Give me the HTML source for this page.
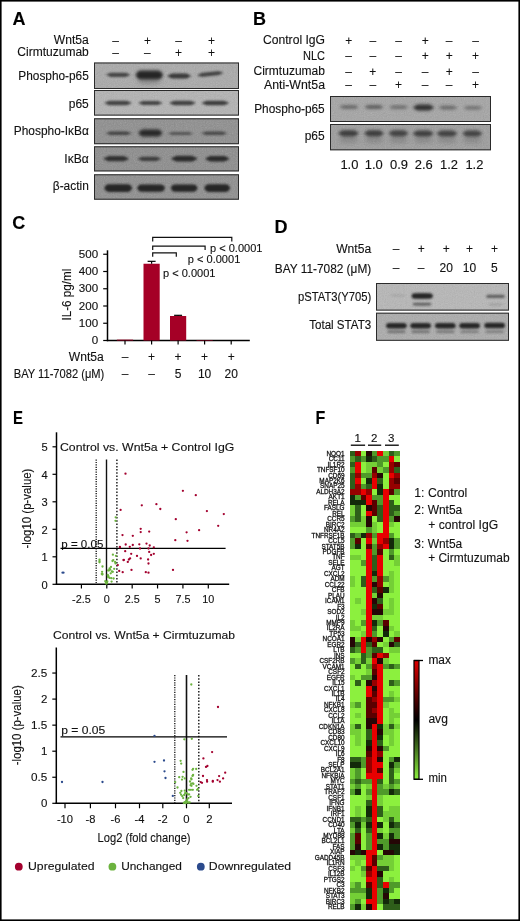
<!DOCTYPE html>
<html><head><meta charset="utf-8"><title>Figure</title>
<style>
html,body{margin:0;padding:0;background:#fff;}
body{width:520px;height:921px;overflow:hidden;position:relative;}
svg{position:absolute;left:0;top:0;display:block;will-change:transform;}
svg text{font-family:"Liberation Sans", sans-serif;stroke:#111;stroke-width:0.12px;}
</style></head><body>
<svg width="520" height="921" viewBox="0 0 520 921">
<defs>
<filter id="bl4" x="-50%" y="-150%" width="200%" height="400%"><feGaussianBlur stdDeviation="0.4"/></filter><filter id="bl5" x="-50%" y="-150%" width="200%" height="400%"><feGaussianBlur stdDeviation="0.5"/></filter><filter id="bl6" x="-50%" y="-150%" width="200%" height="400%"><feGaussianBlur stdDeviation="0.6"/></filter><filter id="bl7" x="-50%" y="-150%" width="200%" height="400%"><feGaussianBlur stdDeviation="0.7"/></filter><filter id="bl8" x="-50%" y="-150%" width="200%" height="400%"><feGaussianBlur stdDeviation="0.8"/></filter><filter id="bl9" x="-50%" y="-150%" width="200%" height="400%"><feGaussianBlur stdDeviation="0.9"/></filter><filter id="bl10" x="-50%" y="-150%" width="200%" height="400%"><feGaussianBlur stdDeviation="1.0"/></filter><filter id="bl11" x="-50%" y="-150%" width="200%" height="400%"><feGaussianBlur stdDeviation="1.1"/></filter><filter id="bl12" x="-50%" y="-150%" width="200%" height="400%"><feGaussianBlur stdDeviation="1.2"/></filter><filter id="bl13" x="-50%" y="-150%" width="200%" height="400%"><feGaussianBlur stdDeviation="1.3"/></filter><filter id="bl14" x="-50%" y="-150%" width="200%" height="400%"><feGaussianBlur stdDeviation="1.4"/></filter><filter id="bl15" x="-50%" y="-150%" width="200%" height="400%"><feGaussianBlur stdDeviation="1.5"/></filter><filter id="bl16" x="-50%" y="-150%" width="200%" height="400%"><feGaussianBlur stdDeviation="1.6"/></filter><filter id="bl17" x="-50%" y="-150%" width="200%" height="400%"><feGaussianBlur stdDeviation="1.7"/></filter><filter id="bl18" x="-50%" y="-150%" width="200%" height="400%"><feGaussianBlur stdDeviation="1.8"/></filter><filter id="bl19" x="-50%" y="-150%" width="200%" height="400%"><feGaussianBlur stdDeviation="1.9"/></filter><filter id="bl20" x="-50%" y="-150%" width="200%" height="400%"><feGaussianBlur stdDeviation="2.0"/></filter><filter id="bl21" x="-50%" y="-150%" width="200%" height="400%"><feGaussianBlur stdDeviation="2.1"/></filter><filter id="bl22" x="-50%" y="-150%" width="200%" height="400%"><feGaussianBlur stdDeviation="2.2"/></filter><filter id="bl23" x="-50%" y="-150%" width="200%" height="400%"><feGaussianBlur stdDeviation="2.3"/></filter><filter id="bl24" x="-50%" y="-150%" width="200%" height="400%"><feGaussianBlur stdDeviation="2.4"/></filter><filter id="bl25" x="-50%" y="-150%" width="200%" height="400%"><feGaussianBlur stdDeviation="2.5"/></filter><filter id="bl26" x="-50%" y="-150%" width="200%" height="400%"><feGaussianBlur stdDeviation="2.6"/></filter><filter id="bl27" x="-50%" y="-150%" width="200%" height="400%"><feGaussianBlur stdDeviation="2.7"/></filter><filter id="bl28" x="-50%" y="-150%" width="200%" height="400%"><feGaussianBlur stdDeviation="2.8"/></filter><filter id="bl29" x="-50%" y="-150%" width="200%" height="400%"><feGaussianBlur stdDeviation="2.9"/></filter><filter id="bl30" x="-50%" y="-150%" width="200%" height="400%"><feGaussianBlur stdDeviation="3.0"/></filter>
<filter id="noise"><feTurbulence type="fractalNoise" baseFrequency="0.9" numOctaves="2" seed="3"/><feColorMatrix type="saturate" values="0"/></filter>
<pattern id="grain" width="520" height="921" patternUnits="userSpaceOnUse"><rect width="520" height="921" fill="#808080" filter="url(#noise)"/></pattern>
</defs>
<rect x="0" y="0" width="520" height="921" fill="#fff"/>
<text x="12.5" y="24.8" font-size="18" text-anchor="start" font-weight="bold" fill="#000">A</text>
<text x="88.8" y="43.8" font-size="12" text-anchor="end" textLength="35" lengthAdjust="spacingAndGlyphs" fill="#111">Wnt5a</text>
<text x="88.8" y="56.2" font-size="12" text-anchor="end" textLength="71.5" lengthAdjust="spacingAndGlyphs" fill="#111">Cirmtuzumab</text>
<text x="115.6" y="44.7" font-size="12" text-anchor="middle" fill="#111">–</text>
<text x="147.4" y="44.7" font-size="12" text-anchor="middle" fill="#111">+</text>
<text x="178.6" y="44.7" font-size="12" text-anchor="middle" fill="#111">–</text>
<text x="211.5" y="44.7" font-size="12" text-anchor="middle" fill="#111">+</text>
<text x="115.6" y="57.2" font-size="12" text-anchor="middle" fill="#111">–</text>
<text x="147.4" y="57.2" font-size="12" text-anchor="middle" fill="#111">–</text>
<text x="178.6" y="57.2" font-size="12" text-anchor="middle" fill="#111">+</text>
<text x="211.5" y="57.2" font-size="12" text-anchor="middle" fill="#111">+</text>
<clipPath id="cp11"><rect x="94" y="62.5" width="145" height="26.5"/></clipPath>
<rect x="94" y="62.5" width="145" height="26.5" fill="#a8a8a8"/>
<g clip-path="url(#cp11)">
<rect x="94" y="62.5" width="145" height="26.5" fill="url(#grain)" opacity="0.30"/>
<g opacity="0.78" filter="url(#bl13)"><rect x="108.84" y="72.70" width="18.72" height="4.20" rx="2.10" fill="#262626"/><ellipse cx="118.2" cy="74.8" rx="12.00" ry="1.89" fill="#262626"/></g>
<g opacity="1.0" filter="url(#bl14)"><rect x="136.24" y="70.50" width="26.12" height="9.00" rx="4.50" fill="#262626"/><ellipse cx="149.3" cy="75.0" rx="13.75" ry="4.05" fill="#262626"/></g>
<g opacity="0.85" filter="url(#bl13)"><rect x="169.84" y="73.50" width="18.72" height="5.00" rx="2.50" fill="#262626"/><ellipse cx="179.2" cy="76.0" rx="12.00" ry="2.25" fill="#262626"/></g>
<g opacity="0.8" filter="url(#bl13)" transform="rotate(-6 210.2 74.0)"><rect x="200.06" y="71.90" width="20.28" height="4.20" rx="2.10" fill="#262626"/><ellipse cx="210.2" cy="74.0" rx="13.00" ry="1.89" fill="#262626"/></g>
<g opacity="0.25" filter="url(#bl23)"><rect x="139.94" y="79.00" width="18.72" height="5.00" rx="2.50" fill="#262626"/><ellipse cx="149.3" cy="81.5" rx="12.00" ry="2.25" fill="#262626"/></g>
</g>
<rect x="94.5" y="63.0" width="144" height="25.5" fill="none" stroke="#2a2a2a" stroke-width="1"/>
<clipPath id="cp22"><rect x="94" y="90" width="145" height="25.6"/></clipPath>
<rect x="94" y="90" width="145" height="25.6" fill="#b2b2b2"/>
<g clip-path="url(#cp22)">
<rect x="94" y="90" width="145" height="25.6" fill="url(#grain)" opacity="0.30"/>
<g opacity="0.8" filter="url(#bl13)"><rect x="107.47" y="100.70" width="21.06" height="4.60" rx="2.30" fill="#262626"/><ellipse cx="118.0" cy="103.0" rx="13.50" ry="2.07" fill="#262626"/></g>
<g opacity="0.8" filter="url(#bl13)"><rect x="141.04" y="100.90" width="18.72" height="4.20" rx="2.10" fill="#262626"/><ellipse cx="150.4" cy="103.0" rx="12.00" ry="1.89" fill="#262626"/></g>
<g opacity="0.82" filter="url(#bl13)"><rect x="172.36" y="100.70" width="20.28" height="4.60" rx="2.30" fill="#262626"/><ellipse cx="182.5" cy="103.0" rx="13.00" ry="2.07" fill="#262626"/></g>
<g opacity="0.85" filter="url(#bl13)"><rect x="204.77" y="100.70" width="21.06" height="4.60" rx="2.30" fill="#262626"/><ellipse cx="215.3" cy="103.0" rx="13.50" ry="2.07" fill="#262626"/></g>
</g>
<rect x="94.5" y="90.5" width="144" height="24.6" fill="none" stroke="#2a2a2a" stroke-width="1"/>
<clipPath id="cp32"><rect x="94" y="118.3" width="145" height="25.9"/></clipPath>
<rect x="94" y="118.3" width="145" height="25.9" fill="#8c8c8c"/>
<g clip-path="url(#cp32)">
<rect x="94" y="118.3" width="145" height="25.9" fill="url(#grain)" opacity="0.30"/>
<g opacity="0.72" filter="url(#bl12)"><rect x="108.56" y="131.60" width="20.28" height="3.40" rx="1.70" fill="#262626"/><ellipse cx="118.7" cy="133.3" rx="13.00" ry="1.53" fill="#262626"/></g>
<g opacity="0.98" filter="url(#bl14)"><rect x="139.60" y="129.50" width="21.60" height="7.00" rx="3.50" fill="#262626"/><ellipse cx="150.4" cy="133.0" rx="12.00" ry="3.15" fill="#262626"/></g>
<g opacity="0.58" filter="url(#bl12)"><rect x="170.75" y="132.00" width="19.50" height="3.00" rx="1.50" fill="#262626"/><ellipse cx="180.5" cy="133.5" rx="12.50" ry="1.35" fill="#262626"/></g>
<g opacity="0.68" filter="url(#bl12)"><rect x="204.16" y="131.60" width="20.28" height="3.40" rx="1.70" fill="#262626"/><ellipse cx="214.3" cy="133.3" rx="13.00" ry="1.53" fill="#262626"/></g>
</g>
<rect x="94.5" y="118.8" width="144" height="24.9" fill="none" stroke="#2a2a2a" stroke-width="1"/>
<clipPath id="cp42"><rect x="94" y="146.3" width="145" height="25.1"/></clipPath>
<rect x="94" y="146.3" width="145" height="25.1" fill="#8a8a8a"/>
<g clip-path="url(#cp42)">
<rect x="94" y="146.3" width="145" height="25.1" fill="url(#grain)" opacity="0.30"/>
<g opacity="0.9" filter="url(#bl13)"><rect x="106.45" y="156.10" width="19.50" height="5.20" rx="2.60" fill="#262626"/><ellipse cx="116.2" cy="158.7" rx="12.50" ry="2.34" fill="#262626"/></g>
<g opacity="0.8" filter="url(#bl13)"><rect x="140.43" y="156.70" width="17.94" height="4.20" rx="2.10" fill="#262626"/><ellipse cx="149.4" cy="158.8" rx="11.50" ry="1.89" fill="#262626"/></g>
<g opacity="0.95" filter="url(#bl13)"><rect x="174.36" y="155.80" width="19.89" height="5.80" rx="2.90" fill="#262626"/><ellipse cx="184.3" cy="158.7" rx="12.75" ry="2.61" fill="#262626"/></g>
<g opacity="0.95" filter="url(#bl13)"><rect x="207.94" y="156.00" width="18.72" height="5.40" rx="2.70" fill="#262626"/><ellipse cx="217.3" cy="158.7" rx="12.00" ry="2.43" fill="#262626"/></g>
</g>
<rect x="94.5" y="146.8" width="144" height="24.1" fill="none" stroke="#2a2a2a" stroke-width="1"/>
<clipPath id="cp52"><rect x="94" y="174.3" width="145" height="25.4"/></clipPath>
<rect x="94" y="174.3" width="145" height="25.4" fill="#8c8c8c"/>
<g clip-path="url(#cp52)">
<rect x="94" y="174.3" width="145" height="25.4" fill="url(#grain)" opacity="0.30"/>
<g opacity="1.0" filter="url(#bl13)"><rect x="104.90" y="184.30" width="26.60" height="7.60" rx="3.80" fill="#262626"/><ellipse cx="118.2" cy="188.1" rx="14.00" ry="3.42" fill="#262626"/></g>
<g opacity="1.0" filter="url(#bl13)"><rect x="137.80" y="184.50" width="26.60" height="7.20" rx="3.60" fill="#262626"/><ellipse cx="151.1" cy="188.1" rx="14.00" ry="3.24" fill="#262626"/></g>
<g opacity="1.0" filter="url(#bl13)"><rect x="171.38" y="184.50" width="25.65" height="7.20" rx="3.60" fill="#262626"/><ellipse cx="184.2" cy="188.1" rx="13.50" ry="3.24" fill="#262626"/></g>
<g opacity="1.0" filter="url(#bl13)"><rect x="204.85" y="184.30" width="24.70" height="7.60" rx="3.80" fill="#262626"/><ellipse cx="217.2" cy="188.1" rx="13.00" ry="3.42" fill="#262626"/></g>
</g>
<rect x="94.5" y="174.8" width="144" height="24.4" fill="none" stroke="#2a2a2a" stroke-width="1"/>
<text x="88.8" y="79.6" font-size="12" text-anchor="end" textLength="70.5" lengthAdjust="spacingAndGlyphs" fill="#111">Phospho-p65</text>
<text x="88.8" y="108.2" font-size="12" text-anchor="end" textLength="20" lengthAdjust="spacingAndGlyphs" fill="#111">p65</text>
<text x="88.8" y="135.2" font-size="12" text-anchor="end" textLength="75" lengthAdjust="spacingAndGlyphs" fill="#111">Phospho-IκBα</text>
<text x="88.8" y="162.6" font-size="12" text-anchor="end" textLength="24.5" lengthAdjust="spacingAndGlyphs" fill="#111">IκBα</text>
<text x="88.8" y="190.2" font-size="12" text-anchor="end" textLength="36" lengthAdjust="spacingAndGlyphs" fill="#111">β-actin</text>
<text x="253" y="25.2" font-size="18" text-anchor="start" font-weight="bold" fill="#000">B</text>
<text x="325" y="43.8" font-size="12" text-anchor="end" textLength="62" lengthAdjust="spacingAndGlyphs" fill="#111">Control IgG</text>
<text x="325" y="59.7" font-size="12" text-anchor="end" textLength="22" lengthAdjust="spacingAndGlyphs" fill="#111">NLC</text>
<text x="325" y="75.1" font-size="12" text-anchor="end" textLength="71.5" lengthAdjust="spacingAndGlyphs" fill="#111">Cirmtuzumab</text>
<text x="325" y="88.8" font-size="12" text-anchor="end" textLength="61" lengthAdjust="spacingAndGlyphs" fill="#111">Anti-Wnt5a</text>
<text x="348.7" y="44.5" font-size="12" text-anchor="middle" fill="#111">+</text>
<text x="372.8" y="44.5" font-size="12" text-anchor="middle" fill="#111">–</text>
<text x="398.6" y="44.5" font-size="12" text-anchor="middle" fill="#111">–</text>
<text x="425.2" y="44.5" font-size="12" text-anchor="middle" fill="#111">+</text>
<text x="449.2" y="44.5" font-size="12" text-anchor="middle" fill="#111">–</text>
<text x="475.6" y="44.5" font-size="12" text-anchor="middle" fill="#111">–</text>
<text x="348.7" y="60.1" font-size="12" text-anchor="middle" fill="#111">–</text>
<text x="372.8" y="60.1" font-size="12" text-anchor="middle" fill="#111">–</text>
<text x="398.6" y="60.1" font-size="12" text-anchor="middle" fill="#111">–</text>
<text x="425.2" y="60.1" font-size="12" text-anchor="middle" fill="#111">+</text>
<text x="449.2" y="60.1" font-size="12" text-anchor="middle" fill="#111">+</text>
<text x="475.6" y="60.1" font-size="12" text-anchor="middle" fill="#111">+</text>
<text x="348.7" y="75.5" font-size="12" text-anchor="middle" fill="#111">–</text>
<text x="372.8" y="75.5" font-size="12" text-anchor="middle" fill="#111">+</text>
<text x="398.6" y="75.5" font-size="12" text-anchor="middle" fill="#111">–</text>
<text x="425.2" y="75.5" font-size="12" text-anchor="middle" fill="#111">–</text>
<text x="449.2" y="75.5" font-size="12" text-anchor="middle" fill="#111">+</text>
<text x="475.6" y="75.5" font-size="12" text-anchor="middle" fill="#111">–</text>
<text x="348.7" y="89.10000000000001" font-size="12" text-anchor="middle" fill="#111">–</text>
<text x="372.8" y="89.10000000000001" font-size="12" text-anchor="middle" fill="#111">–</text>
<text x="398.6" y="89.10000000000001" font-size="12" text-anchor="middle" fill="#111">+</text>
<text x="425.2" y="89.10000000000001" font-size="12" text-anchor="middle" fill="#111">–</text>
<text x="449.2" y="89.10000000000001" font-size="12" text-anchor="middle" fill="#111">–</text>
<text x="475.6" y="89.10000000000001" font-size="12" text-anchor="middle" fill="#111">+</text>
<clipPath id="cp96"><rect x="330" y="96" width="161" height="26"/></clipPath>
<rect x="330" y="96" width="161" height="26" fill="#a3a3a3"/>
<g clip-path="url(#cp96)">
<rect x="330" y="96" width="161" height="26" fill="url(#grain)" opacity="0.30"/>
<g opacity="0.5" filter="url(#bl15)"><rect x="341.69" y="105.20" width="14.82" height="3.60" rx="1.80" fill="#262626"/><ellipse cx="349.1" cy="107.0" rx="9.50" ry="1.62" fill="#262626"/></g>
<g opacity="0.55" filter="url(#bl15)"><rect x="366.59" y="105.00" width="14.82" height="4.00" rx="2.00" fill="#262626"/><ellipse cx="374.0" cy="107.0" rx="9.50" ry="1.80" fill="#262626"/></g>
<g opacity="0.45" filter="url(#bl15)"><rect x="391.29" y="105.50" width="14.82" height="3.40" rx="1.70" fill="#262626"/><ellipse cx="398.7" cy="107.2" rx="9.50" ry="1.53" fill="#262626"/></g>
<g opacity="0.92" filter="url(#bl15)"><rect x="415.31" y="104.60" width="16.38" height="6.00" rx="3.00" fill="#262626"/><ellipse cx="423.5" cy="107.6" rx="10.50" ry="2.70" fill="#262626"/></g>
<g opacity="0.48" filter="url(#bl15)"><rect x="440.59" y="105.80" width="14.82" height="3.60" rx="1.80" fill="#262626"/><ellipse cx="448.0" cy="107.6" rx="9.50" ry="1.62" fill="#262626"/></g>
<g opacity="0.42" filter="url(#bl15)"><rect x="465.59" y="106.10" width="14.82" height="3.40" rx="1.70" fill="#262626"/><ellipse cx="473.0" cy="107.8" rx="9.50" ry="1.53" fill="#262626"/></g>
</g>
<rect x="330.5" y="96.5" width="160" height="25" fill="none" stroke="#2a2a2a" stroke-width="1"/>
<clipPath id="cp108"><rect x="330" y="124" width="161" height="26.3"/></clipPath>
<rect x="330" y="124" width="161" height="26.3" fill="#9b9b9b"/>
<g clip-path="url(#cp108)">
<rect x="330" y="124" width="161" height="26.3" fill="url(#grain)" opacity="0.30"/>
<g opacity="0.8" filter="url(#bl16)"><rect x="340.31" y="130.20" width="16.38" height="6.20" rx="3.10" fill="#262626"/><ellipse cx="348.5" cy="133.3" rx="10.50" ry="2.79" fill="#262626"/></g>
<g opacity="0.8" filter="url(#bl16)"><rect x="366.20" y="130.20" width="15.60" height="6.20" rx="3.10" fill="#262626"/><ellipse cx="374.0" cy="133.3" rx="10.00" ry="2.79" fill="#262626"/></g>
<g opacity="0.76" filter="url(#bl16)"><rect x="390.70" y="130.20" width="15.60" height="6.20" rx="3.10" fill="#262626"/><ellipse cx="398.5" cy="133.3" rx="10.00" ry="2.79" fill="#262626"/></g>
<g opacity="0.8" filter="url(#bl16)"><rect x="415.01" y="130.40" width="16.38" height="6.20" rx="3.10" fill="#262626"/><ellipse cx="423.2" cy="133.5" rx="10.50" ry="2.79" fill="#262626"/></g>
<g opacity="0.78" filter="url(#bl16)"><rect x="438.81" y="130.40" width="16.38" height="6.20" rx="3.10" fill="#262626"/><ellipse cx="447.0" cy="133.5" rx="10.50" ry="2.79" fill="#262626"/></g>
<g opacity="0.76" filter="url(#bl16)"><rect x="464.50" y="130.40" width="15.60" height="6.20" rx="3.10" fill="#262626"/><ellipse cx="472.3" cy="133.5" rx="10.00" ry="2.79" fill="#262626"/></g>
<g opacity="0.2" filter="url(#bl23)"><rect x="340.70" y="137.50" width="15.60" height="5.00" rx="2.50" fill="#262626"/><ellipse cx="348.5" cy="140" rx="10.00" ry="2.25" fill="#262626"/></g>
<g opacity="0.2" filter="url(#bl23)"><rect x="366.20" y="137.50" width="15.60" height="5.00" rx="2.50" fill="#262626"/><ellipse cx="374" cy="140" rx="10.00" ry="2.25" fill="#262626"/></g>
<g opacity="0.2" filter="url(#bl23)"><rect x="390.70" y="137.50" width="15.60" height="5.00" rx="2.50" fill="#262626"/><ellipse cx="398.5" cy="140" rx="10.00" ry="2.25" fill="#262626"/></g>
<g opacity="0.2" filter="url(#bl23)"><rect x="415.40" y="137.50" width="15.60" height="5.00" rx="2.50" fill="#262626"/><ellipse cx="423.2" cy="140" rx="10.00" ry="2.25" fill="#262626"/></g>
<g opacity="0.2" filter="url(#bl23)"><rect x="439.20" y="137.50" width="15.60" height="5.00" rx="2.50" fill="#262626"/><ellipse cx="447" cy="140" rx="10.00" ry="2.25" fill="#262626"/></g>
<g opacity="0.2" filter="url(#bl23)"><rect x="464.50" y="137.50" width="15.60" height="5.00" rx="2.50" fill="#262626"/><ellipse cx="472.3" cy="140" rx="10.00" ry="2.25" fill="#262626"/></g>
</g>
<rect x="330.5" y="124.5" width="160" height="25.3" fill="none" stroke="#2a2a2a" stroke-width="1"/>
<text x="324.7" y="113.4" font-size="12" text-anchor="end" textLength="70.5" lengthAdjust="spacingAndGlyphs" fill="#111">Phospho-p65</text>
<text x="324.7" y="140.3" font-size="12" text-anchor="end" textLength="20" lengthAdjust="spacingAndGlyphs" fill="#111">p65</text>
<text x="349.4" y="168.9" font-size="12" text-anchor="middle" textLength="18" lengthAdjust="spacingAndGlyphs" fill="#111">1.0</text>
<text x="373.7" y="168.9" font-size="12" text-anchor="middle" textLength="18" lengthAdjust="spacingAndGlyphs" fill="#111">1.0</text>
<text x="399.0" y="168.9" font-size="12" text-anchor="middle" textLength="18" lengthAdjust="spacingAndGlyphs" fill="#111">0.9</text>
<text x="423.8" y="168.9" font-size="12" text-anchor="middle" textLength="18" lengthAdjust="spacingAndGlyphs" fill="#111">2.6</text>
<text x="449.0" y="168.9" font-size="12" text-anchor="middle" textLength="18" lengthAdjust="spacingAndGlyphs" fill="#111">1.2</text>
<text x="474.4" y="168.9" font-size="12" text-anchor="middle" textLength="18" lengthAdjust="spacingAndGlyphs" fill="#111">1.2</text>
<text x="12.3" y="229.1" font-size="18" text-anchor="start" font-weight="bold" fill="#000">C</text>
<line x1="107.5" y1="250.3" x2="107.5" y2="341.2" stroke="#000" stroke-width="1.5"/>
<line x1="106.8" y1="340.5" x2="249.8" y2="340.5" stroke="#000" stroke-width="1.5"/>
<line x1="103.2" y1="340.5" x2="107.5" y2="340.5" stroke="#000" stroke-width="1.2"/>
<text x="98.2" y="344.2" font-size="10.4" text-anchor="end" textLength="6.45" lengthAdjust="spacingAndGlyphs" fill="#111">0</text>
<line x1="103.2" y1="323.25" x2="107.5" y2="323.25" stroke="#000" stroke-width="1.2"/>
<text x="98.2" y="326.95" font-size="10.4" text-anchor="end" textLength="19.35" lengthAdjust="spacingAndGlyphs" fill="#111">100</text>
<line x1="103.2" y1="306.0" x2="107.5" y2="306.0" stroke="#000" stroke-width="1.2"/>
<text x="98.2" y="309.7" font-size="10.4" text-anchor="end" textLength="19.35" lengthAdjust="spacingAndGlyphs" fill="#111">200</text>
<line x1="103.2" y1="288.75" x2="107.5" y2="288.75" stroke="#000" stroke-width="1.2"/>
<text x="98.2" y="292.45" font-size="10.4" text-anchor="end" textLength="19.35" lengthAdjust="spacingAndGlyphs" fill="#111">300</text>
<line x1="103.2" y1="271.5" x2="107.5" y2="271.5" stroke="#000" stroke-width="1.2"/>
<text x="98.2" y="275.2" font-size="10.4" text-anchor="end" textLength="19.35" lengthAdjust="spacingAndGlyphs" fill="#111">400</text>
<line x1="103.2" y1="254.25" x2="107.5" y2="254.25" stroke="#000" stroke-width="1.2"/>
<text x="98.2" y="257.95" font-size="10.4" text-anchor="end" textLength="19.35" lengthAdjust="spacingAndGlyphs" fill="#111">500</text>
<text transform="translate(70.6,294.6) rotate(-90)" font-size="13" text-anchor="middle" fill="#111" textLength="51.7" lengthAdjust="spacingAndGlyphs">IL-6 pg/ml</text>
<rect x="116.9" y="339.6375" width="16.2" height="0.8625000000000114" fill="#a50026"/>
<line x1="125" y1="340.5" x2="125" y2="344.5" stroke="#000" stroke-width="1.2"/>
<rect x="143.5" y="263.7375" width="16.2" height="76.76249999999999" fill="#a50026"/>
<line x1="151.6" y1="263.7375" x2="151.6" y2="261.3225" stroke="#000" stroke-width="1.2"/>
<line x1="147.6" y1="261.3225" x2="155.6" y2="261.3225" stroke="#000" stroke-width="1.2"/>
<line x1="151.6" y1="340.5" x2="151.6" y2="344.5" stroke="#000" stroke-width="1.2"/>
<rect x="170.0" y="316.005" width="16.2" height="24.495000000000005" fill="#a50026"/>
<line x1="178.1" y1="316.005" x2="178.1" y2="315.315" stroke="#000" stroke-width="1.2"/>
<line x1="174.1" y1="315.315" x2="182.1" y2="315.315" stroke="#000" stroke-width="1.2"/>
<line x1="178.1" y1="340.5" x2="178.1" y2="344.5" stroke="#000" stroke-width="1.2"/>
<rect x="196.5" y="339.9825" width="16.2" height="0.5174999999999841" fill="#a50026"/>
<line x1="204.6" y1="340.5" x2="204.6" y2="344.5" stroke="#000" stroke-width="1.2"/>
<line x1="231.2" y1="340.5" x2="231.2" y2="344.5" stroke="#000" stroke-width="1.2"/>
<polyline points="152.7,241.4 152.7,237.3 231.8,237.3 231.8,241.4" fill="none" stroke="#111" stroke-width="1.2"/>
<polyline points="152.7,250.0 152.7,246.2 205.1,246.2 205.1,250.0" fill="none" stroke="#111" stroke-width="1.2"/>
<polyline points="152.7,256.7 152.7,252.8 176.3,252.8 176.3,256.7" fill="none" stroke="#111" stroke-width="1.2"/>
<text x="163.0" y="277.0" font-size="11.5" text-anchor="start" textLength="52.5" lengthAdjust="spacingAndGlyphs" fill="#111">p &lt; 0.0001</text>
<text x="187.8" y="263.2" font-size="11.5" text-anchor="start" textLength="52.5" lengthAdjust="spacingAndGlyphs" fill="#111">p &lt; 0.0001</text>
<text x="210.0" y="251.6" font-size="11.5" text-anchor="start" textLength="52.5" lengthAdjust="spacingAndGlyphs" fill="#111">p &lt; 0.0001</text>
<text x="103.8" y="360.6" font-size="12" text-anchor="end" textLength="35" lengthAdjust="spacingAndGlyphs" fill="#111">Wnt5a</text>
<text x="13.8" y="377.6" font-size="12" text-anchor="start" textLength="90.5" lengthAdjust="spacingAndGlyphs" fill="#111">BAY 11-7082 (μM)</text>
<text x="125" y="360.8" font-size="12" text-anchor="middle" fill="#111">–</text>
<text x="151.6" y="360.8" font-size="12" text-anchor="middle" fill="#111">+</text>
<text x="178.1" y="360.8" font-size="12" text-anchor="middle" fill="#111">+</text>
<text x="204.6" y="360.8" font-size="12" text-anchor="middle" fill="#111">+</text>
<text x="231.2" y="360.8" font-size="12" text-anchor="middle" fill="#111">+</text>
<text x="125" y="377.6" font-size="12" text-anchor="middle" fill="#111">–</text>
<text x="151.6" y="377.6" font-size="12" text-anchor="middle" fill="#111">–</text>
<text x="178.1" y="377.6" font-size="12" text-anchor="middle" fill="#111">5</text>
<text x="204.6" y="377.6" font-size="12" text-anchor="middle" fill="#111">10</text>
<text x="231.2" y="377.6" font-size="12" text-anchor="middle" fill="#111">20</text>
<text x="274.6" y="233.0" font-size="18" text-anchor="start" font-weight="bold" fill="#000">D</text>
<text x="371.2" y="253.2" font-size="12" text-anchor="end" textLength="35" lengthAdjust="spacingAndGlyphs" fill="#111">Wnt5a</text>
<text x="371.2" y="272.5" font-size="12" text-anchor="end" textLength="96.4" lengthAdjust="spacingAndGlyphs" fill="#111">BAY 11-7082 (μM)</text>
<text x="396.1" y="253.2" font-size="12" text-anchor="middle" fill="#111">–</text>
<text x="421.2" y="253.2" font-size="12" text-anchor="middle" fill="#111">+</text>
<text x="446.2" y="253.2" font-size="12" text-anchor="middle" fill="#111">+</text>
<text x="469.4" y="253.2" font-size="12" text-anchor="middle" fill="#111">+</text>
<text x="494.4" y="253.2" font-size="12" text-anchor="middle" fill="#111">+</text>
<text x="396.1" y="272.3" font-size="12" text-anchor="middle" fill="#111">–</text>
<text x="421.2" y="272.3" font-size="12" text-anchor="middle" fill="#111">–</text>
<text x="446.2" y="272.3" font-size="12" text-anchor="middle" fill="#111">20</text>
<text x="469.4" y="272.3" font-size="12" text-anchor="middle" fill="#111">10</text>
<text x="494.4" y="272.3" font-size="12" text-anchor="middle" fill="#111">5</text>
<clipPath id="cp194"><rect x="376" y="283" width="133" height="27.6"/></clipPath>
<rect x="376" y="283" width="133" height="27.6" fill="#b6b6b6"/>
<g clip-path="url(#cp194)">
<rect x="376" y="283" width="133" height="27.6" fill="url(#grain)" opacity="0.30"/>
<g opacity="1.0" filter="url(#bl13)"><rect x="411.77" y="293.20" width="20.86" height="5.60" rx="2.80" fill="#262626"/><ellipse cx="422.2" cy="296.0" rx="10.75" ry="2.52" fill="#262626"/></g>
<g opacity="0.6" filter="url(#bl12)"><rect x="412.98" y="302.80" width="18.05" height="2.80" rx="1.40" fill="#262626"/><ellipse cx="422.0" cy="304.2" rx="9.50" ry="1.26" fill="#262626"/></g>
<g opacity="0.6" filter="url(#bl13)"><rect x="486.50" y="294.80" width="18.00" height="3.20" rx="1.60" fill="#262626"/><ellipse cx="495.5" cy="296.4" rx="10.00" ry="1.44" fill="#262626"/></g>
<g opacity="0.15" filter="url(#bl13)"><rect x="489.26" y="303.50" width="12.48" height="2.00" rx="1.00" fill="#262626"/><ellipse cx="495.5" cy="304.5" rx="8.00" ry="0.90" fill="#262626"/></g>
<g opacity="0.1" filter="url(#bl13)"><rect x="391.76" y="294.50" width="12.48" height="2.00" rx="1.00" fill="#262626"/><ellipse cx="398" cy="295.5" rx="8.00" ry="0.90" fill="#262626"/></g>
</g>
<rect x="376.5" y="283.5" width="132" height="26.6" fill="none" stroke="#2a2a2a" stroke-width="1"/>
<clipPath id="cp205"><rect x="376" y="312.7" width="133" height="28.1"/></clipPath>
<rect x="376" y="312.7" width="133" height="28.1" fill="#aaaaaa"/>
<g clip-path="url(#cp205)">
<rect x="376" y="312.7" width="133" height="28.1" fill="url(#grain)" opacity="0.30"/>
<g opacity="1.0" filter="url(#bl13)"><rect x="386.21" y="323.05" width="20.37" height="5.50" rx="2.75" fill="#262626"/><ellipse cx="396.4" cy="325.8" rx="10.50" ry="2.48" fill="#262626"/></g>
<g opacity="1.0" filter="url(#bl13)"><rect x="410.42" y="323.05" width="20.37" height="5.50" rx="2.75" fill="#262626"/><ellipse cx="420.6" cy="325.8" rx="10.50" ry="2.48" fill="#262626"/></g>
<g opacity="1.0" filter="url(#bl13)"><rect x="435.12" y="323.05" width="20.37" height="5.50" rx="2.75" fill="#262626"/><ellipse cx="445.3" cy="325.8" rx="10.50" ry="2.48" fill="#262626"/></g>
<g opacity="1.0" filter="url(#bl13)"><rect x="459.42" y="323.05" width="20.37" height="5.50" rx="2.75" fill="#262626"/><ellipse cx="469.6" cy="325.8" rx="10.50" ry="2.48" fill="#262626"/></g>
<g opacity="1.0" filter="url(#bl13)"><rect x="484.51" y="322.85" width="20.37" height="5.50" rx="2.75" fill="#262626"/><ellipse cx="494.7" cy="325.6" rx="10.50" ry="2.48" fill="#262626"/></g>
<g opacity="0.45" filter="url(#bl13)"><rect x="387.38" y="330.55" width="18.05" height="2.50" rx="1.25" fill="#262626"/><ellipse cx="396.4" cy="331.8" rx="9.50" ry="1.12" fill="#262626"/></g>
<g opacity="0.45" filter="url(#bl13)"><rect x="411.58" y="330.55" width="18.05" height="2.50" rx="1.25" fill="#262626"/><ellipse cx="420.6" cy="331.8" rx="9.50" ry="1.12" fill="#262626"/></g>
<g opacity="0.4" filter="url(#bl13)"><rect x="436.28" y="330.55" width="18.05" height="2.50" rx="1.25" fill="#262626"/><ellipse cx="445.3" cy="331.8" rx="9.50" ry="1.12" fill="#262626"/></g>
<g opacity="0.35" filter="url(#bl13)"><rect x="460.58" y="330.55" width="18.05" height="2.50" rx="1.25" fill="#262626"/><ellipse cx="469.6" cy="331.8" rx="9.50" ry="1.12" fill="#262626"/></g>
<g opacity="0.35" filter="url(#bl13)"><rect x="485.68" y="330.55" width="18.05" height="2.50" rx="1.25" fill="#262626"/><ellipse cx="494.7" cy="331.8" rx="9.50" ry="1.12" fill="#262626"/></g>
</g>
<rect x="376.5" y="313.2" width="132" height="27.1" fill="none" stroke="#2a2a2a" stroke-width="1"/>
<text x="371.2" y="301.3" font-size="12" text-anchor="end" textLength="73.2" lengthAdjust="spacingAndGlyphs" fill="#111">pSTAT3(Y705)</text>
<text x="371.2" y="329.3" font-size="12" text-anchor="end" textLength="62" lengthAdjust="spacingAndGlyphs" fill="#111">Total STAT3</text>
<text x="12.9" y="424.1" font-size="17.5" text-anchor="start" font-weight="bold" textLength="10" lengthAdjust="spacingAndGlyphs" fill="#000">E</text>
<line x1="56.5" y1="432.3" x2="56.5" y2="585" stroke="#000" stroke-width="1.5"/>
<line x1="55.8" y1="584.3" x2="229.2" y2="584.3" stroke="#000" stroke-width="1.5"/>
<line x1="52.5" y1="584.3" x2="56.5" y2="584.3" stroke="#000" stroke-width="1.2"/>
<text x="47.6" y="588.5" font-size="10.6" text-anchor="end" textLength="6.2" lengthAdjust="spacingAndGlyphs" fill="#111">0</text>
<line x1="52.5" y1="556.8" x2="56.5" y2="556.8" stroke="#000" stroke-width="1.2"/>
<text x="47.6" y="561.0" font-size="10.6" text-anchor="end" textLength="6.2" lengthAdjust="spacingAndGlyphs" fill="#111">1</text>
<line x1="52.5" y1="529.3" x2="56.5" y2="529.3" stroke="#000" stroke-width="1.2"/>
<text x="47.6" y="533.5" font-size="10.6" text-anchor="end" textLength="6.2" lengthAdjust="spacingAndGlyphs" fill="#111">2</text>
<line x1="52.5" y1="501.79999999999995" x2="56.5" y2="501.79999999999995" stroke="#000" stroke-width="1.2"/>
<text x="47.6" y="505.99999999999994" font-size="10.6" text-anchor="end" textLength="6.2" lengthAdjust="spacingAndGlyphs" fill="#111">3</text>
<line x1="52.5" y1="474.29999999999995" x2="56.5" y2="474.29999999999995" stroke="#000" stroke-width="1.2"/>
<text x="47.6" y="478.49999999999994" font-size="10.6" text-anchor="end" textLength="6.2" lengthAdjust="spacingAndGlyphs" fill="#111">4</text>
<line x1="52.5" y1="446.79999999999995" x2="56.5" y2="446.79999999999995" stroke="#000" stroke-width="1.2"/>
<text x="47.6" y="450.99999999999994" font-size="10.6" text-anchor="end" textLength="6.2" lengthAdjust="spacingAndGlyphs" fill="#111">5</text>
<line x1="81.425" y1="584.3" x2="81.425" y2="588.5" stroke="#000" stroke-width="1.2"/>
<text x="81.425" y="603.1" font-size="10.8" text-anchor="middle" fill="#111">-2.5</text>
<line x1="106.8" y1="584.3" x2="106.8" y2="588.5" stroke="#000" stroke-width="1.2"/>
<text x="106.8" y="603.1" font-size="10.8" text-anchor="middle" fill="#111">0</text>
<line x1="132.175" y1="584.3" x2="132.175" y2="588.5" stroke="#000" stroke-width="1.2"/>
<text x="132.175" y="603.1" font-size="10.8" text-anchor="middle" fill="#111">2.5</text>
<line x1="157.55" y1="584.3" x2="157.55" y2="588.5" stroke="#000" stroke-width="1.2"/>
<text x="157.55" y="603.1" font-size="10.8" text-anchor="middle" fill="#111">5</text>
<line x1="182.925" y1="584.3" x2="182.925" y2="588.5" stroke="#000" stroke-width="1.2"/>
<text x="182.925" y="603.1" font-size="10.8" text-anchor="middle" fill="#111">7.5</text>
<line x1="208.3" y1="584.3" x2="208.3" y2="588.5" stroke="#000" stroke-width="1.2"/>
<text x="208.3" y="603.1" font-size="10.8" text-anchor="middle" fill="#111">10</text>
<text transform="translate(30.9,508.6) rotate(-90)" font-size="12" text-anchor="middle" fill="#111" textLength="80" lengthAdjust="spacingAndGlyphs">-log10 (p-value)</text>
<text x="60" y="450.7" font-size="11.2" text-anchor="start" textLength="174.3" lengthAdjust="spacingAndGlyphs" fill="#111">Control vs. Wnt5a + Control IgG</text>
<line x1="96.2" y1="459.5" x2="96.2" y2="584" stroke="#111" stroke-width="1.3" stroke-dasharray="1.2,1.2"/>
<line x1="116.9" y1="459.5" x2="116.9" y2="584" stroke="#111" stroke-width="1.4" stroke-dasharray="1.5,1.7"/>
<line x1="106.5" y1="459.5" x2="106.5" y2="584" stroke="#111" stroke-width="1.4"/>
<text x="61.3" y="547.6" font-size="11.2" text-anchor="start" textLength="42" lengthAdjust="spacingAndGlyphs" fill="#111">p = 0.05</text>
<line x1="60.5" y1="548.4" x2="225.6" y2="548.4" stroke="#000" stroke-width="1.3"/>
<circle cx="115.7" cy="517.3" r="1.15" fill="#6cb33f"/>
<circle cx="115.5" cy="520.8" r="1.15" fill="#6cb33f"/>
<circle cx="112.9" cy="554.7" r="1.15" fill="#6cb33f"/>
<circle cx="116" cy="555.8" r="1.15" fill="#6cb33f"/>
<circle cx="99.5" cy="559.7" r="1.15" fill="#6cb33f"/>
<circle cx="99.5" cy="561.2" r="1.15" fill="#6cb33f"/>
<circle cx="99.5" cy="562.3" r="1.15" fill="#6cb33f"/>
<circle cx="113.3" cy="560.1" r="1.15" fill="#6cb33f"/>
<circle cx="112.5" cy="561" r="1.15" fill="#6cb33f"/>
<circle cx="115.1" cy="562" r="1.15" fill="#6cb33f"/>
<circle cx="115.5" cy="563.4" r="1.15" fill="#6cb33f"/>
<circle cx="102.5" cy="566.5" r="1.15" fill="#6cb33f"/>
<circle cx="111" cy="566.9" r="1.15" fill="#6cb33f"/>
<circle cx="114.2" cy="568.8" r="1.15" fill="#6cb33f"/>
<circle cx="109.6" cy="568.4" r="1.15" fill="#6cb33f"/>
<circle cx="108.1" cy="570.4" r="1.15" fill="#6cb33f"/>
<circle cx="109" cy="570.4" r="1.15" fill="#6cb33f"/>
<circle cx="111.9" cy="571.5" r="1.15" fill="#6cb33f"/>
<circle cx="112.8" cy="571.8" r="1.15" fill="#6cb33f"/>
<circle cx="102.1" cy="571.8" r="1.15" fill="#6cb33f"/>
<circle cx="110.7" cy="573.3" r="1.15" fill="#6cb33f"/>
<circle cx="102.4" cy="573.9" r="1.15" fill="#6cb33f"/>
<circle cx="101.8" cy="573.9" r="1.15" fill="#6cb33f"/>
<circle cx="102.3" cy="574.6" r="1.15" fill="#6cb33f"/>
<circle cx="107.8" cy="575" r="1.15" fill="#6cb33f"/>
<circle cx="108.1" cy="577" r="1.15" fill="#6cb33f"/>
<circle cx="109.6" cy="577.9" r="1.15" fill="#6cb33f"/>
<circle cx="111.3" cy="578.2" r="1.15" fill="#6cb33f"/>
<circle cx="113.6" cy="578.5" r="1.15" fill="#6cb33f"/>
<circle cx="105.3" cy="581.2" r="1.15" fill="#6cb33f"/>
<circle cx="107.3" cy="581.4" r="1.15" fill="#6cb33f"/>
<circle cx="106.1" cy="582.5" r="1.15" fill="#6cb33f"/>
<circle cx="106.4" cy="583.6" r="1.15" fill="#6cb33f"/>
<circle cx="111.6" cy="581.6" r="1.15" fill="#6cb33f"/>
<circle cx="105.8" cy="583.2" r="1.15" fill="#6cb33f"/>
<circle cx="107.0" cy="583.0" r="1.15" fill="#6cb33f"/>
<circle cx="108.4" cy="576.2" r="1.15" fill="#6cb33f"/>
<circle cx="110.2" cy="569.6" r="1.15" fill="#6cb33f"/>
<circle cx="125.5" cy="473.7" r="1.15" fill="#a3002e"/>
<circle cx="182.9" cy="490.8" r="1.15" fill="#a3002e"/>
<circle cx="195.8" cy="495.2" r="1.15" fill="#a3002e"/>
<circle cx="141.8" cy="505.3" r="1.15" fill="#a3002e"/>
<circle cx="156.4" cy="504.2" r="1.15" fill="#a3002e"/>
<circle cx="160.3" cy="509" r="1.15" fill="#a3002e"/>
<circle cx="120.6" cy="509.9" r="1.15" fill="#a3002e"/>
<circle cx="206.9" cy="511.1" r="1.15" fill="#a3002e"/>
<circle cx="223.8" cy="514.1" r="1.15" fill="#a3002e"/>
<circle cx="175.8" cy="519.2" r="1.15" fill="#a3002e"/>
<circle cx="140.7" cy="528.8" r="1.15" fill="#a3002e"/>
<circle cx="140.7" cy="532.1" r="1.15" fill="#a3002e"/>
<circle cx="149.2" cy="531.6" r="1.15" fill="#a3002e"/>
<circle cx="218.2" cy="525.8" r="1.15" fill="#a3002e"/>
<circle cx="199.1" cy="530.2" r="1.15" fill="#a3002e"/>
<circle cx="186.6" cy="532.3" r="1.15" fill="#a3002e"/>
<circle cx="122.5" cy="535.1" r="1.15" fill="#a3002e"/>
<circle cx="132.8" cy="535.8" r="1.15" fill="#a3002e"/>
<circle cx="175.3" cy="540.2" r="1.15" fill="#a3002e"/>
<circle cx="187.5" cy="540.8" r="1.15" fill="#a3002e"/>
<circle cx="119.9" cy="546.8" r="1.15" fill="#a3002e"/>
<circle cx="125.7" cy="544.5" r="1.15" fill="#a3002e"/>
<circle cx="129.8" cy="546.8" r="1.15" fill="#a3002e"/>
<circle cx="132.8" cy="545" r="1.15" fill="#a3002e"/>
<circle cx="139.3" cy="544.3" r="1.15" fill="#a3002e"/>
<circle cx="146.5" cy="543.6" r="1.15" fill="#a3002e"/>
<circle cx="149.7" cy="545.5" r="1.15" fill="#a3002e"/>
<circle cx="153.8" cy="547.3" r="1.15" fill="#a3002e"/>
<circle cx="140" cy="548.5" r="1.15" fill="#a3002e"/>
<circle cx="148.5" cy="548.5" r="1.15" fill="#a3002e"/>
<circle cx="125.2" cy="551.2" r="1.15" fill="#a3002e"/>
<circle cx="149.2" cy="551.9" r="1.15" fill="#a3002e"/>
<circle cx="131.2" cy="553.8" r="1.15" fill="#a3002e"/>
<circle cx="153.8" cy="553.8" r="1.15" fill="#a3002e"/>
<circle cx="151.1" cy="555" r="1.15" fill="#a3002e"/>
<circle cx="137" cy="555.9" r="1.15" fill="#a3002e"/>
<circle cx="140.7" cy="558.4" r="1.15" fill="#a3002e"/>
<circle cx="130.1" cy="558.4" r="1.15" fill="#a3002e"/>
<circle cx="128.9" cy="559.5" r="1.15" fill="#a3002e"/>
<circle cx="123.8" cy="560" r="1.15" fill="#a3002e"/>
<circle cx="127.8" cy="561.9" r="1.15" fill="#a3002e"/>
<circle cx="148.1" cy="559.5" r="1.15" fill="#a3002e"/>
<circle cx="148.5" cy="563.5" r="1.15" fill="#a3002e"/>
<circle cx="117.8" cy="565.1" r="1.15" fill="#a3002e"/>
<circle cx="119.2" cy="570.9" r="1.15" fill="#a3002e"/>
<circle cx="122.7" cy="572.2" r="1.15" fill="#a3002e"/>
<circle cx="131.5" cy="569.9" r="1.15" fill="#a3002e"/>
<circle cx="145.8" cy="572.2" r="1.15" fill="#a3002e"/>
<circle cx="148.5" cy="572.7" r="1.15" fill="#a3002e"/>
<circle cx="173" cy="569.9" r="1.15" fill="#a3002e"/>
<circle cx="120" cy="547.3" r="1.15" fill="#a3002e"/>
<circle cx="123.5" cy="560.1" r="1.15" fill="#a3002e"/>
<ellipse cx="63" cy="572.7" rx="1.7" ry="1.1" fill="#2b4a8c"/>
<line x1="56.3" y1="647.5" x2="56.3" y2="804" stroke="#000" stroke-width="1.5"/>
<line x1="55.6" y1="803.3" x2="232" y2="803.3" stroke="#000" stroke-width="1.5"/>
<line x1="52.3" y1="803.3" x2="56.3" y2="803.3" stroke="#000" stroke-width="1.2"/>
<text x="47.4" y="807.3" font-size="11.2" text-anchor="end" textLength="6.4" lengthAdjust="spacingAndGlyphs" fill="#111">0</text>
<line x1="52.3" y1="777.25" x2="56.3" y2="777.25" stroke="#000" stroke-width="1.2"/>
<text x="47.4" y="781.25" font-size="11.2" text-anchor="end" textLength="16.3" lengthAdjust="spacingAndGlyphs" fill="#111">0.5</text>
<line x1="52.3" y1="751.1999999999999" x2="56.3" y2="751.1999999999999" stroke="#000" stroke-width="1.2"/>
<text x="47.4" y="755.1999999999999" font-size="11.2" text-anchor="end" textLength="6.4" lengthAdjust="spacingAndGlyphs" fill="#111">1</text>
<line x1="52.3" y1="725.15" x2="56.3" y2="725.15" stroke="#000" stroke-width="1.2"/>
<text x="47.4" y="729.15" font-size="11.2" text-anchor="end" textLength="16.3" lengthAdjust="spacingAndGlyphs" fill="#111">1.5</text>
<line x1="52.3" y1="699.0999999999999" x2="56.3" y2="699.0999999999999" stroke="#000" stroke-width="1.2"/>
<text x="47.4" y="703.0999999999999" font-size="11.2" text-anchor="end" textLength="6.4" lengthAdjust="spacingAndGlyphs" fill="#111">2</text>
<line x1="52.3" y1="673.05" x2="56.3" y2="673.05" stroke="#000" stroke-width="1.2"/>
<text x="47.4" y="677.05" font-size="11.2" text-anchor="end" textLength="16.3" lengthAdjust="spacingAndGlyphs" fill="#111">2.5</text>
<line x1="65" y1="803.3" x2="65" y2="808.3" stroke="#000" stroke-width="1.2"/>
<text x="65" y="822.9" font-size="11" text-anchor="middle" textLength="16.2" lengthAdjust="spacingAndGlyphs" fill="#111">-10</text>
<line x1="90.4" y1="803.3" x2="90.4" y2="808.3" stroke="#000" stroke-width="1.2"/>
<text x="90.4" y="822.9" font-size="11" text-anchor="middle" textLength="9.9" lengthAdjust="spacingAndGlyphs" fill="#111">-8</text>
<line x1="115.5" y1="803.3" x2="115.5" y2="808.3" stroke="#000" stroke-width="1.2"/>
<text x="115.5" y="822.9" font-size="11" text-anchor="middle" textLength="9.9" lengthAdjust="spacingAndGlyphs" fill="#111">-6</text>
<line x1="139.5" y1="803.3" x2="139.5" y2="808.3" stroke="#000" stroke-width="1.2"/>
<text x="139.5" y="822.9" font-size="11" text-anchor="middle" textLength="9.9" lengthAdjust="spacingAndGlyphs" fill="#111">-4</text>
<line x1="162.8" y1="803.3" x2="162.8" y2="808.3" stroke="#000" stroke-width="1.2"/>
<text x="162.8" y="822.9" font-size="11" text-anchor="middle" textLength="9.9" lengthAdjust="spacingAndGlyphs" fill="#111">-2</text>
<line x1="186.5" y1="803.3" x2="186.5" y2="808.3" stroke="#000" stroke-width="1.2"/>
<text x="186.5" y="822.9" font-size="11" text-anchor="middle" textLength="6.3" lengthAdjust="spacingAndGlyphs" fill="#111">0</text>
<line x1="209.3" y1="803.3" x2="209.3" y2="808.3" stroke="#000" stroke-width="1.2"/>
<text x="209.3" y="822.9" font-size="11" text-anchor="middle" textLength="6.3" lengthAdjust="spacingAndGlyphs" fill="#111">2</text>
<text transform="translate(21.2,725.3) rotate(-90)" font-size="12" text-anchor="middle" fill="#111" textLength="80" lengthAdjust="spacingAndGlyphs">-log10 (p-value)</text>
<text x="53" y="639.3" font-size="11.2" text-anchor="start" textLength="182" lengthAdjust="spacingAndGlyphs" fill="#111">Control vs. Wnt5a + Cirmtuzumab</text>
<line x1="174.8" y1="675" x2="174.8" y2="803" stroke="#111" stroke-width="1.3" stroke-dasharray="1.2,1.2"/>
<line x1="198.8" y1="675" x2="198.8" y2="803" stroke="#111" stroke-width="1.4" stroke-dasharray="1.5,1.7"/>
<line x1="186.5" y1="675" x2="186.5" y2="803" stroke="#111" stroke-width="1.6"/>
<text x="61.3" y="733.8" font-size="11.2" text-anchor="start" textLength="44" lengthAdjust="spacingAndGlyphs" fill="#111">p = 0.05</text>
<line x1="60.5" y1="736.8" x2="227" y2="736.8" stroke="#000" stroke-width="1.3"/>
<circle cx="191.3" cy="684.5" r="1.15" fill="#6cb33f"/>
<circle cx="184.3" cy="739.3" r="1.15" fill="#6cb33f"/>
<circle cx="191.8" cy="738.8" r="1.15" fill="#6cb33f"/>
<circle cx="180.6" cy="760.8" r="1.15" fill="#6cb33f"/>
<circle cx="181.2" cy="763.6" r="1.15" fill="#6cb33f"/>
<circle cx="183.5" cy="771.9" r="1.15" fill="#6cb33f"/>
<circle cx="179.2" cy="777.2" r="1.15" fill="#6cb33f"/>
<circle cx="182.6" cy="776.8" r="1.15" fill="#6cb33f"/>
<circle cx="182" cy="779.6" r="1.15" fill="#6cb33f"/>
<circle cx="184.8" cy="778.4" r="1.15" fill="#6cb33f"/>
<circle cx="175.2" cy="782.1" r="1.15" fill="#6cb33f"/>
<circle cx="177.5" cy="787.5" r="1.15" fill="#6cb33f"/>
<circle cx="192.5" cy="769.8" r="1.15" fill="#6cb33f"/>
<circle cx="193.1" cy="768.8" r="1.15" fill="#6cb33f"/>
<circle cx="196.2" cy="769" r="1.15" fill="#6cb33f"/>
<circle cx="193.1" cy="775" r="1.15" fill="#6cb33f"/>
<circle cx="192.5" cy="775.9" r="1.15" fill="#6cb33f"/>
<circle cx="191.5" cy="779.3" r="1.15" fill="#6cb33f"/>
<circle cx="191.2" cy="778.4" r="1.15" fill="#6cb33f"/>
<circle cx="190" cy="781.5" r="1.15" fill="#6cb33f"/>
<circle cx="191.2" cy="783.6" r="1.15" fill="#6cb33f"/>
<circle cx="192.8" cy="783.3" r="1.15" fill="#6cb33f"/>
<circle cx="193.4" cy="783.9" r="1.15" fill="#6cb33f"/>
<circle cx="190.6" cy="785.2" r="1.15" fill="#6cb33f"/>
<circle cx="191.5" cy="785.8" r="1.15" fill="#6cb33f"/>
<circle cx="196.5" cy="785.8" r="1.15" fill="#6cb33f"/>
<circle cx="189.1" cy="789.8" r="1.15" fill="#6cb33f"/>
<circle cx="190.9" cy="789.8" r="1.15" fill="#6cb33f"/>
<circle cx="192.8" cy="789.8" r="1.15" fill="#6cb33f"/>
<circle cx="197.1" cy="789.8" r="1.15" fill="#6cb33f"/>
<circle cx="198" cy="788.8" r="1.15" fill="#6cb33f"/>
<circle cx="198.3" cy="795.9" r="1.15" fill="#6cb33f"/>
<circle cx="181.4" cy="791" r="1.15" fill="#6cb33f"/>
<circle cx="180.2" cy="792.8" r="1.15" fill="#6cb33f"/>
<circle cx="181.1" cy="794.7" r="1.15" fill="#6cb33f"/>
<circle cx="182.3" cy="796.2" r="1.15" fill="#6cb33f"/>
<circle cx="183.2" cy="798.1" r="1.15" fill="#6cb33f"/>
<circle cx="184.8" cy="790.7" r="1.15" fill="#6cb33f"/>
<circle cx="185.1" cy="793.2" r="1.15" fill="#6cb33f"/>
<circle cx="184.2" cy="795" r="1.15" fill="#6cb33f"/>
<circle cx="186.6" cy="793.2" r="1.15" fill="#6cb33f"/>
<circle cx="187.8" cy="794.4" r="1.15" fill="#6cb33f"/>
<circle cx="189.1" cy="794.4" r="1.15" fill="#6cb33f"/>
<circle cx="190.6" cy="796.8" r="1.15" fill="#6cb33f"/>
<circle cx="188.5" cy="798.1" r="1.15" fill="#6cb33f"/>
<circle cx="187.2" cy="799.3" r="1.15" fill="#6cb33f"/>
<circle cx="186" cy="801.2" r="1.15" fill="#6cb33f"/>
<circle cx="184.8" cy="802.1" r="1.15" fill="#6cb33f"/>
<circle cx="186.6" cy="802.7" r="1.15" fill="#6cb33f"/>
<circle cx="188.5" cy="802.7" r="1.15" fill="#6cb33f"/>
<circle cx="189.7" cy="802.4" r="1.15" fill="#6cb33f"/>
<circle cx="183.8" cy="803" r="1.15" fill="#6cb33f"/>
<circle cx="185.5" cy="803.2" r="1.15" fill="#6cb33f"/>
<circle cx="187.4" cy="801.5" r="1.15" fill="#6cb33f"/>
<circle cx="218" cy="707" r="1.15" fill="#a3002e"/>
<circle cx="212.1" cy="752.1" r="1.15" fill="#a3002e"/>
<circle cx="203.4" cy="758.4" r="1.15" fill="#a3002e"/>
<circle cx="206" cy="766.9" r="1.15" fill="#a3002e"/>
<circle cx="207.4" cy="766" r="1.15" fill="#a3002e"/>
<circle cx="203" cy="776" r="1.15" fill="#a3002e"/>
<circle cx="200.7" cy="782.1" r="1.15" fill="#a3002e"/>
<circle cx="202" cy="782.8" r="1.15" fill="#a3002e"/>
<circle cx="207" cy="780.1" r="1.15" fill="#a3002e"/>
<circle cx="207.1" cy="781.7" r="1.15" fill="#a3002e"/>
<circle cx="212.8" cy="781" r="1.15" fill="#a3002e"/>
<circle cx="212.8" cy="781.7" r="1.15" fill="#a3002e"/>
<circle cx="217.5" cy="780.1" r="1.15" fill="#a3002e"/>
<circle cx="219.9" cy="781.7" r="1.15" fill="#a3002e"/>
<circle cx="219.1" cy="776.1" r="1.15" fill="#a3002e"/>
<circle cx="223.1" cy="778.4" r="1.15" fill="#a3002e"/>
<circle cx="225.2" cy="772.7" r="1.15" fill="#a3002e"/>
<circle cx="154.5" cy="735.8" r="1.15" fill="#2b4a8c"/>
<circle cx="154.5" cy="761.8" r="1.15" fill="#2b4a8c"/>
<circle cx="164" cy="760.5" r="1.15" fill="#2b4a8c"/>
<circle cx="164.5" cy="771.3" r="1.15" fill="#2b4a8c"/>
<circle cx="165.5" cy="778" r="1.15" fill="#2b4a8c"/>
<circle cx="172.8" cy="795.9" r="1.15" fill="#2b4a8c"/>
<circle cx="62" cy="782" r="1.15" fill="#2b4a8c"/>
<circle cx="102.5" cy="782" r="1.15" fill="#2b4a8c"/>
<text x="97.6" y="842.3" font-size="13.5" text-anchor="start" textLength="93" lengthAdjust="spacingAndGlyphs" fill="#111">Log2 (fold change)</text>
<circle cx="18.8" cy="866.7" r="3.9" fill="#a3002e"/>
<text x="28" y="869.9" font-size="11.2" text-anchor="start" textLength="66.6" lengthAdjust="spacingAndGlyphs" fill="#111">Upregulated</text>
<circle cx="112.4" cy="866.7" r="3.9" fill="#6cb33f"/>
<text x="121.2" y="869.9" font-size="11.2" text-anchor="start" textLength="60.7" lengthAdjust="spacingAndGlyphs" fill="#111">Unchanged</text>
<circle cx="200.8" cy="866.7" r="3.9" fill="#2b4a8c"/>
<text x="208.8" y="869.9" font-size="11.2" text-anchor="start" textLength="82.4" lengthAdjust="spacingAndGlyphs" fill="#111">Downregulated</text>
<text x="315.5" y="424.0" font-size="17.5" text-anchor="start" font-weight="bold" textLength="9.8" lengthAdjust="spacingAndGlyphs" fill="#000">F</text>
<text x="357.7" y="442.1" font-size="11.5" text-anchor="middle" fill="#111">1</text>
<line x1="350.8" y1="445.2" x2="365.1" y2="445.2" stroke="#000" stroke-width="1.3"/>
<text x="374.3" y="442.1" font-size="11.5" text-anchor="middle" fill="#111">2</text>
<line x1="368" y1="445.2" x2="381.2" y2="445.2" stroke="#000" stroke-width="1.3"/>
<text x="391.2" y="442.1" font-size="11.5" text-anchor="middle" fill="#111">3</text>
<line x1="385" y1="445.2" x2="398.8" y2="445.2" stroke="#000" stroke-width="1.3"/>
<g shape-rendering="crispEdges">
<rect x="349.50" y="450.80" width="5.89" height="5.76" fill="#2e5e1a"/>
<rect x="355.09" y="450.80" width="5.89" height="5.76" fill="#960000"/>
<rect x="360.68" y="450.80" width="5.89" height="5.76" fill="#8cf03e"/>
<rect x="366.27" y="450.80" width="5.89" height="5.76" fill="#250606"/>
<rect x="371.86" y="450.80" width="5.89" height="5.76" fill="#4f9a2a"/>
<rect x="377.44" y="450.80" width="5.89" height="5.76" fill="#e80000"/>
<rect x="383.03" y="450.80" width="5.89" height="5.76" fill="#74cf36"/>
<rect x="388.62" y="450.80" width="5.89" height="5.76" fill="#2e5e1a"/>
<rect x="394.21" y="450.80" width="5.89" height="5.76" fill="#4f9a2a"/>
<rect x="349.50" y="456.26" width="5.89" height="5.76" fill="#4f9a2a"/>
<rect x="355.09" y="456.26" width="5.89" height="5.76" fill="#2e5e1a"/>
<rect x="360.68" y="456.26" width="5.89" height="5.76" fill="#4f9a2a"/>
<rect x="366.27" y="456.26" width="5.89" height="5.76" fill="#132a0a"/>
<rect x="371.86" y="456.26" width="5.89" height="5.76" fill="#2e5e1a"/>
<rect x="377.44" y="456.26" width="5.89" height="5.76" fill="#4f9a2a"/>
<rect x="383.03" y="456.26" width="5.89" height="5.76" fill="#4f9a2a"/>
<rect x="388.62" y="456.26" width="5.89" height="5.76" fill="#e80000"/>
<rect x="394.21" y="456.26" width="5.89" height="5.76" fill="#8cf03e"/>
<rect x="349.50" y="461.72" width="5.89" height="5.76" fill="#2e5e1a"/>
<rect x="355.09" y="461.72" width="5.89" height="5.76" fill="#e80000"/>
<rect x="360.68" y="461.72" width="5.89" height="5.76" fill="#8cf03e"/>
<rect x="366.27" y="461.72" width="5.89" height="5.76" fill="#74cf36"/>
<rect x="371.86" y="461.72" width="5.89" height="5.76" fill="#74cf36"/>
<rect x="377.44" y="461.72" width="5.89" height="5.76" fill="#4f9a2a"/>
<rect x="383.03" y="461.72" width="5.89" height="5.76" fill="#8cf03e"/>
<rect x="388.62" y="461.72" width="5.89" height="5.76" fill="#960000"/>
<rect x="394.21" y="461.72" width="5.89" height="5.76" fill="#5a0000"/>
<rect x="349.50" y="467.19" width="5.89" height="5.76" fill="#4f9a2a"/>
<rect x="355.09" y="467.19" width="5.89" height="5.76" fill="#e80000"/>
<rect x="360.68" y="467.19" width="5.89" height="5.76" fill="#8cf03e"/>
<rect x="366.27" y="467.19" width="5.89" height="5.76" fill="#74cf36"/>
<rect x="371.86" y="467.19" width="5.89" height="5.76" fill="#5a0000"/>
<rect x="377.44" y="467.19" width="5.89" height="5.76" fill="#74cf36"/>
<rect x="383.03" y="467.19" width="5.89" height="5.76" fill="#4f9a2a"/>
<rect x="388.62" y="467.19" width="5.89" height="5.76" fill="#960000"/>
<rect x="394.21" y="467.19" width="5.89" height="5.76" fill="#2e5e1a"/>
<rect x="349.50" y="472.65" width="5.89" height="5.76" fill="#2e5e1a"/>
<rect x="355.09" y="472.65" width="5.89" height="5.76" fill="#960000"/>
<rect x="360.68" y="472.65" width="5.89" height="5.76" fill="#4f9a2a"/>
<rect x="366.27" y="472.65" width="5.89" height="5.76" fill="#4f9a2a"/>
<rect x="371.86" y="472.65" width="5.89" height="5.76" fill="#960000"/>
<rect x="377.44" y="472.65" width="5.89" height="5.76" fill="#250606"/>
<rect x="383.03" y="472.65" width="5.89" height="5.76" fill="#8cf03e"/>
<rect x="388.62" y="472.65" width="5.89" height="5.76" fill="#e80000"/>
<rect x="394.21" y="472.65" width="5.89" height="5.76" fill="#960000"/>
<rect x="349.50" y="478.11" width="5.89" height="5.76" fill="#2e5e1a"/>
<rect x="355.09" y="478.11" width="5.89" height="5.76" fill="#e80000"/>
<rect x="360.68" y="478.11" width="5.89" height="5.76" fill="#8cf03e"/>
<rect x="366.27" y="478.11" width="5.89" height="5.76" fill="#132a0a"/>
<rect x="371.86" y="478.11" width="5.89" height="5.76" fill="#e80000"/>
<rect x="377.44" y="478.11" width="5.89" height="5.76" fill="#2e5e1a"/>
<rect x="383.03" y="478.11" width="5.89" height="5.76" fill="#8cf03e"/>
<rect x="388.62" y="478.11" width="5.89" height="5.76" fill="#960000"/>
<rect x="394.21" y="478.11" width="5.89" height="5.76" fill="#5a0000"/>
<rect x="349.50" y="483.57" width="5.89" height="5.76" fill="#2e5e1a"/>
<rect x="355.09" y="483.57" width="5.89" height="5.76" fill="#960000"/>
<rect x="360.68" y="483.57" width="5.89" height="5.76" fill="#4f9a2a"/>
<rect x="366.27" y="483.57" width="5.89" height="5.76" fill="#2e5e1a"/>
<rect x="371.86" y="483.57" width="5.89" height="5.76" fill="#e80000"/>
<rect x="377.44" y="483.57" width="5.89" height="5.76" fill="#132a0a"/>
<rect x="383.03" y="483.57" width="5.89" height="5.76" fill="#8cf03e"/>
<rect x="388.62" y="483.57" width="5.89" height="5.76" fill="#960000"/>
<rect x="394.21" y="483.57" width="5.89" height="5.76" fill="#960000"/>
<rect x="349.50" y="489.03" width="5.89" height="5.76" fill="#960000"/>
<rect x="355.09" y="489.03" width="5.89" height="5.76" fill="#960000"/>
<rect x="360.68" y="489.03" width="5.89" height="5.76" fill="#e80000"/>
<rect x="366.27" y="489.03" width="5.89" height="5.76" fill="#960000"/>
<rect x="371.86" y="489.03" width="5.89" height="5.76" fill="#8cf03e"/>
<rect x="377.44" y="489.03" width="5.89" height="5.76" fill="#132a0a"/>
<rect x="383.03" y="489.03" width="5.89" height="5.76" fill="#e80000"/>
<rect x="388.62" y="489.03" width="5.89" height="5.76" fill="#5a0000"/>
<rect x="394.21" y="489.03" width="5.89" height="5.76" fill="#4f9a2a"/>
<rect x="349.50" y="494.50" width="5.89" height="5.76" fill="#132a0a"/>
<rect x="355.09" y="494.50" width="5.89" height="5.76" fill="#4f9a2a"/>
<rect x="360.68" y="494.50" width="5.89" height="5.76" fill="#5a0000"/>
<rect x="366.27" y="494.50" width="5.89" height="5.76" fill="#e80000"/>
<rect x="371.86" y="494.50" width="5.89" height="5.76" fill="#4f9a2a"/>
<rect x="377.44" y="494.50" width="5.89" height="5.76" fill="#4f9a2a"/>
<rect x="383.03" y="494.50" width="5.89" height="5.76" fill="#e80000"/>
<rect x="388.62" y="494.50" width="5.89" height="5.76" fill="#8cf03e"/>
<rect x="394.21" y="494.50" width="5.89" height="5.76" fill="#8cf03e"/>
<rect x="349.50" y="499.96" width="5.89" height="5.76" fill="#132a0a"/>
<rect x="355.09" y="499.96" width="5.89" height="5.76" fill="#132a0a"/>
<rect x="360.68" y="499.96" width="5.89" height="5.76" fill="#132a0a"/>
<rect x="366.27" y="499.96" width="5.89" height="5.76" fill="#e80000"/>
<rect x="371.86" y="499.96" width="5.89" height="5.76" fill="#5a0000"/>
<rect x="377.44" y="499.96" width="5.89" height="5.76" fill="#4f9a2a"/>
<rect x="383.03" y="499.96" width="5.89" height="5.76" fill="#e80000"/>
<rect x="388.62" y="499.96" width="5.89" height="5.76" fill="#2e5e1a"/>
<rect x="394.21" y="499.96" width="5.89" height="5.76" fill="#8cf03e"/>
<rect x="349.50" y="505.42" width="5.89" height="5.76" fill="#74cf36"/>
<rect x="355.09" y="505.42" width="5.89" height="5.76" fill="#2e5e1a"/>
<rect x="360.68" y="505.42" width="5.89" height="5.76" fill="#8cf03e"/>
<rect x="366.27" y="505.42" width="5.89" height="5.76" fill="#250606"/>
<rect x="371.86" y="505.42" width="5.89" height="5.76" fill="#5a0000"/>
<rect x="377.44" y="505.42" width="5.89" height="5.76" fill="#2e5e1a"/>
<rect x="383.03" y="505.42" width="5.89" height="5.76" fill="#e80000"/>
<rect x="388.62" y="505.42" width="5.89" height="5.76" fill="#2e5e1a"/>
<rect x="394.21" y="505.42" width="5.89" height="5.76" fill="#2e5e1a"/>
<rect x="349.50" y="510.88" width="5.89" height="5.76" fill="#74cf36"/>
<rect x="355.09" y="510.88" width="5.89" height="5.76" fill="#2e5e1a"/>
<rect x="360.68" y="510.88" width="5.89" height="5.76" fill="#8cf03e"/>
<rect x="366.27" y="510.88" width="5.89" height="5.76" fill="#e80000"/>
<rect x="371.86" y="510.88" width="5.89" height="5.76" fill="#5a0000"/>
<rect x="377.44" y="510.88" width="5.89" height="5.76" fill="#2e5e1a"/>
<rect x="383.03" y="510.88" width="5.89" height="5.76" fill="#e80000"/>
<rect x="388.62" y="510.88" width="5.89" height="5.76" fill="#2e5e1a"/>
<rect x="394.21" y="510.88" width="5.89" height="5.76" fill="#4f9a2a"/>
<rect x="349.50" y="516.34" width="5.89" height="5.76" fill="#4f9a2a"/>
<rect x="355.09" y="516.34" width="5.89" height="5.76" fill="#2e5e1a"/>
<rect x="360.68" y="516.34" width="5.89" height="5.76" fill="#74cf36"/>
<rect x="366.27" y="516.34" width="5.89" height="5.76" fill="#250606"/>
<rect x="371.86" y="516.34" width="5.89" height="5.76" fill="#8cf03e"/>
<rect x="377.44" y="516.34" width="5.89" height="5.76" fill="#2e5e1a"/>
<rect x="383.03" y="516.34" width="5.89" height="5.76" fill="#e80000"/>
<rect x="388.62" y="516.34" width="5.89" height="5.76" fill="#4f9a2a"/>
<rect x="394.21" y="516.34" width="5.89" height="5.76" fill="#250606"/>
<rect x="349.50" y="521.80" width="5.89" height="5.76" fill="#74cf36"/>
<rect x="355.09" y="521.80" width="5.89" height="5.76" fill="#74cf36"/>
<rect x="360.68" y="521.80" width="5.89" height="5.76" fill="#74cf36"/>
<rect x="366.27" y="521.80" width="5.89" height="5.76" fill="#250606"/>
<rect x="371.86" y="521.80" width="5.89" height="5.76" fill="#74cf36"/>
<rect x="377.44" y="521.80" width="5.89" height="5.76" fill="#8cf03e"/>
<rect x="383.03" y="521.80" width="5.89" height="5.76" fill="#e80000"/>
<rect x="388.62" y="521.80" width="5.89" height="5.76" fill="#74cf36"/>
<rect x="394.21" y="521.80" width="5.89" height="5.76" fill="#8cf03e"/>
<rect x="349.50" y="527.27" width="5.89" height="5.76" fill="#8cf03e"/>
<rect x="355.09" y="527.27" width="5.89" height="5.76" fill="#8cf03e"/>
<rect x="360.68" y="527.27" width="5.89" height="5.76" fill="#8cf03e"/>
<rect x="366.27" y="527.27" width="5.89" height="5.76" fill="#4f9a2a"/>
<rect x="371.86" y="527.27" width="5.89" height="5.76" fill="#74cf36"/>
<rect x="377.44" y="527.27" width="5.89" height="5.76" fill="#8cf03e"/>
<rect x="383.03" y="527.27" width="5.89" height="5.76" fill="#e80000"/>
<rect x="388.62" y="527.27" width="5.89" height="5.76" fill="#8cf03e"/>
<rect x="394.21" y="527.27" width="5.89" height="5.76" fill="#8cf03e"/>
<rect x="349.50" y="532.73" width="5.89" height="5.76" fill="#2e5e1a"/>
<rect x="355.09" y="532.73" width="5.89" height="5.76" fill="#4f9a2a"/>
<rect x="360.68" y="532.73" width="5.89" height="5.76" fill="#132a0a"/>
<rect x="366.27" y="532.73" width="5.89" height="5.76" fill="#960000"/>
<rect x="371.86" y="532.73" width="5.89" height="5.76" fill="#4f9a2a"/>
<rect x="377.44" y="532.73" width="5.89" height="5.76" fill="#e80000"/>
<rect x="383.03" y="532.73" width="5.89" height="5.76" fill="#e80000"/>
<rect x="388.62" y="532.73" width="5.89" height="5.76" fill="#4f9a2a"/>
<rect x="394.21" y="532.73" width="5.89" height="5.76" fill="#8cf03e"/>
<rect x="349.50" y="538.19" width="5.89" height="5.76" fill="#4f9a2a"/>
<rect x="355.09" y="538.19" width="5.89" height="5.76" fill="#5a0000"/>
<rect x="360.68" y="538.19" width="5.89" height="5.76" fill="#8cf03e"/>
<rect x="366.27" y="538.19" width="5.89" height="5.76" fill="#e80000"/>
<rect x="371.86" y="538.19" width="5.89" height="5.76" fill="#74cf36"/>
<rect x="377.44" y="538.19" width="5.89" height="5.76" fill="#e80000"/>
<rect x="383.03" y="538.19" width="5.89" height="5.76" fill="#960000"/>
<rect x="388.62" y="538.19" width="5.89" height="5.76" fill="#132a0a"/>
<rect x="394.21" y="538.19" width="5.89" height="5.76" fill="#4f9a2a"/>
<rect x="349.50" y="543.65" width="5.89" height="5.76" fill="#4f9a2a"/>
<rect x="355.09" y="543.65" width="5.89" height="5.76" fill="#132a0a"/>
<rect x="360.68" y="543.65" width="5.89" height="5.76" fill="#8cf03e"/>
<rect x="366.27" y="543.65" width="5.89" height="5.76" fill="#5a0000"/>
<rect x="371.86" y="543.65" width="5.89" height="5.76" fill="#4f9a2a"/>
<rect x="377.44" y="543.65" width="5.89" height="5.76" fill="#960000"/>
<rect x="383.03" y="543.65" width="5.89" height="5.76" fill="#e80000"/>
<rect x="388.62" y="543.65" width="5.89" height="5.76" fill="#132a0a"/>
<rect x="394.21" y="543.65" width="5.89" height="5.76" fill="#4f9a2a"/>
<rect x="349.50" y="549.11" width="5.89" height="5.76" fill="#8cf03e"/>
<rect x="355.09" y="549.11" width="5.89" height="5.76" fill="#8cf03e"/>
<rect x="360.68" y="549.11" width="5.89" height="5.76" fill="#8cf03e"/>
<rect x="366.27" y="549.11" width="5.89" height="5.76" fill="#e80000"/>
<rect x="371.86" y="549.11" width="5.89" height="5.76" fill="#4f9a2a"/>
<rect x="377.44" y="549.11" width="5.89" height="5.76" fill="#5a0000"/>
<rect x="383.03" y="549.11" width="5.89" height="5.76" fill="#8cf03e"/>
<rect x="388.62" y="549.11" width="5.89" height="5.76" fill="#4f9a2a"/>
<rect x="394.21" y="549.11" width="5.89" height="5.76" fill="#8cf03e"/>
<rect x="349.50" y="554.58" width="5.89" height="5.76" fill="#74cf36"/>
<rect x="355.09" y="554.58" width="5.89" height="5.76" fill="#74cf36"/>
<rect x="360.68" y="554.58" width="5.89" height="5.76" fill="#8cf03e"/>
<rect x="366.27" y="554.58" width="5.89" height="5.76" fill="#e80000"/>
<rect x="371.86" y="554.58" width="5.89" height="5.76" fill="#2e5e1a"/>
<rect x="377.44" y="554.58" width="5.89" height="5.76" fill="#e80000"/>
<rect x="383.03" y="554.58" width="5.89" height="5.76" fill="#8cf03e"/>
<rect x="388.62" y="554.58" width="5.89" height="5.76" fill="#2e5e1a"/>
<rect x="394.21" y="554.58" width="5.89" height="5.76" fill="#74cf36"/>
<rect x="349.50" y="560.04" width="5.89" height="5.76" fill="#8cf03e"/>
<rect x="355.09" y="560.04" width="5.89" height="5.76" fill="#8cf03e"/>
<rect x="360.68" y="560.04" width="5.89" height="5.76" fill="#4f9a2a"/>
<rect x="366.27" y="560.04" width="5.89" height="5.76" fill="#e80000"/>
<rect x="371.86" y="560.04" width="5.89" height="5.76" fill="#2e5e1a"/>
<rect x="377.44" y="560.04" width="5.89" height="5.76" fill="#e80000"/>
<rect x="383.03" y="560.04" width="5.89" height="5.76" fill="#8cf03e"/>
<rect x="388.62" y="560.04" width="5.89" height="5.76" fill="#8cf03e"/>
<rect x="394.21" y="560.04" width="5.89" height="5.76" fill="#74cf36"/>
<rect x="349.50" y="565.50" width="5.89" height="5.76" fill="#8cf03e"/>
<rect x="355.09" y="565.50" width="5.89" height="5.76" fill="#8cf03e"/>
<rect x="360.68" y="565.50" width="5.89" height="5.76" fill="#8cf03e"/>
<rect x="366.27" y="565.50" width="5.89" height="5.76" fill="#e80000"/>
<rect x="371.86" y="565.50" width="5.89" height="5.76" fill="#2e5e1a"/>
<rect x="377.44" y="565.50" width="5.89" height="5.76" fill="#e80000"/>
<rect x="383.03" y="565.50" width="5.89" height="5.76" fill="#8cf03e"/>
<rect x="388.62" y="565.50" width="5.89" height="5.76" fill="#8cf03e"/>
<rect x="394.21" y="565.50" width="5.89" height="5.76" fill="#8cf03e"/>
<rect x="349.50" y="570.96" width="5.89" height="5.76" fill="#8cf03e"/>
<rect x="355.09" y="570.96" width="5.89" height="5.76" fill="#8cf03e"/>
<rect x="360.68" y="570.96" width="5.89" height="5.76" fill="#8cf03e"/>
<rect x="366.27" y="570.96" width="5.89" height="5.76" fill="#e80000"/>
<rect x="371.86" y="570.96" width="5.89" height="5.76" fill="#132a0a"/>
<rect x="377.44" y="570.96" width="5.89" height="5.76" fill="#e80000"/>
<rect x="383.03" y="570.96" width="5.89" height="5.76" fill="#8cf03e"/>
<rect x="388.62" y="570.96" width="5.89" height="5.76" fill="#74cf36"/>
<rect x="394.21" y="570.96" width="5.89" height="5.76" fill="#8cf03e"/>
<rect x="349.50" y="576.42" width="5.89" height="5.76" fill="#74cf36"/>
<rect x="355.09" y="576.42" width="5.89" height="5.76" fill="#8cf03e"/>
<rect x="360.68" y="576.42" width="5.89" height="5.76" fill="#2e5e1a"/>
<rect x="366.27" y="576.42" width="5.89" height="5.76" fill="#e80000"/>
<rect x="371.86" y="576.42" width="5.89" height="5.76" fill="#4f9a2a"/>
<rect x="377.44" y="576.42" width="5.89" height="5.76" fill="#960000"/>
<rect x="383.03" y="576.42" width="5.89" height="5.76" fill="#4f9a2a"/>
<rect x="388.62" y="576.42" width="5.89" height="5.76" fill="#74cf36"/>
<rect x="394.21" y="576.42" width="5.89" height="5.76" fill="#8cf03e"/>
<rect x="349.50" y="581.89" width="5.89" height="5.76" fill="#74cf36"/>
<rect x="355.09" y="581.89" width="5.89" height="5.76" fill="#8cf03e"/>
<rect x="360.68" y="581.89" width="5.89" height="5.76" fill="#2e5e1a"/>
<rect x="366.27" y="581.89" width="5.89" height="5.76" fill="#e80000"/>
<rect x="371.86" y="581.89" width="5.89" height="5.76" fill="#250606"/>
<rect x="377.44" y="581.89" width="5.89" height="5.76" fill="#960000"/>
<rect x="383.03" y="581.89" width="5.89" height="5.76" fill="#8cf03e"/>
<rect x="388.62" y="581.89" width="5.89" height="5.76" fill="#74cf36"/>
<rect x="394.21" y="581.89" width="5.89" height="5.76" fill="#8cf03e"/>
<rect x="349.50" y="587.35" width="5.89" height="5.76" fill="#8cf03e"/>
<rect x="355.09" y="587.35" width="5.89" height="5.76" fill="#8cf03e"/>
<rect x="360.68" y="587.35" width="5.89" height="5.76" fill="#8cf03e"/>
<rect x="366.27" y="587.35" width="5.89" height="5.76" fill="#e80000"/>
<rect x="371.86" y="587.35" width="5.89" height="5.76" fill="#2e5e1a"/>
<rect x="377.44" y="587.35" width="5.89" height="5.76" fill="#5a0000"/>
<rect x="383.03" y="587.35" width="5.89" height="5.76" fill="#132a0a"/>
<rect x="388.62" y="587.35" width="5.89" height="5.76" fill="#74cf36"/>
<rect x="394.21" y="587.35" width="5.89" height="5.76" fill="#8cf03e"/>
<rect x="349.50" y="592.81" width="5.89" height="5.76" fill="#8cf03e"/>
<rect x="355.09" y="592.81" width="5.89" height="5.76" fill="#8cf03e"/>
<rect x="360.68" y="592.81" width="5.89" height="5.76" fill="#8cf03e"/>
<rect x="366.27" y="592.81" width="5.89" height="5.76" fill="#e80000"/>
<rect x="371.86" y="592.81" width="5.89" height="5.76" fill="#74cf36"/>
<rect x="377.44" y="592.81" width="5.89" height="5.76" fill="#250606"/>
<rect x="383.03" y="592.81" width="5.89" height="5.76" fill="#8cf03e"/>
<rect x="388.62" y="592.81" width="5.89" height="5.76" fill="#8cf03e"/>
<rect x="394.21" y="592.81" width="5.89" height="5.76" fill="#8cf03e"/>
<rect x="349.50" y="598.27" width="5.89" height="5.76" fill="#8cf03e"/>
<rect x="355.09" y="598.27" width="5.89" height="5.76" fill="#74cf36"/>
<rect x="360.68" y="598.27" width="5.89" height="5.76" fill="#8cf03e"/>
<rect x="366.27" y="598.27" width="5.89" height="5.76" fill="#e80000"/>
<rect x="371.86" y="598.27" width="5.89" height="5.76" fill="#250606"/>
<rect x="377.44" y="598.27" width="5.89" height="5.76" fill="#2e5e1a"/>
<rect x="383.03" y="598.27" width="5.89" height="5.76" fill="#8cf03e"/>
<rect x="388.62" y="598.27" width="5.89" height="5.76" fill="#74cf36"/>
<rect x="394.21" y="598.27" width="5.89" height="5.76" fill="#8cf03e"/>
<rect x="349.50" y="603.73" width="5.89" height="5.76" fill="#8cf03e"/>
<rect x="355.09" y="603.73" width="5.89" height="5.76" fill="#8cf03e"/>
<rect x="360.68" y="603.73" width="5.89" height="5.76" fill="#8cf03e"/>
<rect x="366.27" y="603.73" width="5.89" height="5.76" fill="#e80000"/>
<rect x="371.86" y="603.73" width="5.89" height="5.76" fill="#132a0a"/>
<rect x="377.44" y="603.73" width="5.89" height="5.76" fill="#5a0000"/>
<rect x="383.03" y="603.73" width="5.89" height="5.76" fill="#8cf03e"/>
<rect x="388.62" y="603.73" width="5.89" height="5.76" fill="#74cf36"/>
<rect x="394.21" y="603.73" width="5.89" height="5.76" fill="#8cf03e"/>
<rect x="349.50" y="609.20" width="5.89" height="5.76" fill="#8cf03e"/>
<rect x="355.09" y="609.20" width="5.89" height="5.76" fill="#8cf03e"/>
<rect x="360.68" y="609.20" width="5.89" height="5.76" fill="#74cf36"/>
<rect x="366.27" y="609.20" width="5.89" height="5.76" fill="#e80000"/>
<rect x="371.86" y="609.20" width="5.89" height="5.76" fill="#250606"/>
<rect x="377.44" y="609.20" width="5.89" height="5.76" fill="#250606"/>
<rect x="383.03" y="609.20" width="5.89" height="5.76" fill="#74cf36"/>
<rect x="388.62" y="609.20" width="5.89" height="5.76" fill="#74cf36"/>
<rect x="394.21" y="609.20" width="5.89" height="5.76" fill="#8cf03e"/>
<rect x="349.50" y="614.66" width="5.89" height="5.76" fill="#8cf03e"/>
<rect x="355.09" y="614.66" width="5.89" height="5.76" fill="#8cf03e"/>
<rect x="360.68" y="614.66" width="5.89" height="5.76" fill="#8cf03e"/>
<rect x="366.27" y="614.66" width="5.89" height="5.76" fill="#e80000"/>
<rect x="371.86" y="614.66" width="5.89" height="5.76" fill="#74cf36"/>
<rect x="377.44" y="614.66" width="5.89" height="5.76" fill="#74cf36"/>
<rect x="383.03" y="614.66" width="5.89" height="5.76" fill="#8cf03e"/>
<rect x="388.62" y="614.66" width="5.89" height="5.76" fill="#8cf03e"/>
<rect x="394.21" y="614.66" width="5.89" height="5.76" fill="#8cf03e"/>
<rect x="349.50" y="620.12" width="5.89" height="5.76" fill="#74cf36"/>
<rect x="355.09" y="620.12" width="5.89" height="5.76" fill="#8cf03e"/>
<rect x="360.68" y="620.12" width="5.89" height="5.76" fill="#4f9a2a"/>
<rect x="366.27" y="620.12" width="5.89" height="5.76" fill="#e80000"/>
<rect x="371.86" y="620.12" width="5.89" height="5.76" fill="#132a0a"/>
<rect x="377.44" y="620.12" width="5.89" height="5.76" fill="#4f9a2a"/>
<rect x="383.03" y="620.12" width="5.89" height="5.76" fill="#5a0000"/>
<rect x="388.62" y="620.12" width="5.89" height="5.76" fill="#8cf03e"/>
<rect x="394.21" y="620.12" width="5.89" height="5.76" fill="#8cf03e"/>
<rect x="349.50" y="625.58" width="5.89" height="5.76" fill="#74cf36"/>
<rect x="355.09" y="625.58" width="5.89" height="5.76" fill="#74cf36"/>
<rect x="360.68" y="625.58" width="5.89" height="5.76" fill="#8cf03e"/>
<rect x="366.27" y="625.58" width="5.89" height="5.76" fill="#e80000"/>
<rect x="371.86" y="625.58" width="5.89" height="5.76" fill="#2e5e1a"/>
<rect x="377.44" y="625.58" width="5.89" height="5.76" fill="#8cf03e"/>
<rect x="383.03" y="625.58" width="5.89" height="5.76" fill="#250606"/>
<rect x="388.62" y="625.58" width="5.89" height="5.76" fill="#74cf36"/>
<rect x="394.21" y="625.58" width="5.89" height="5.76" fill="#8cf03e"/>
<rect x="349.50" y="631.04" width="5.89" height="5.76" fill="#8cf03e"/>
<rect x="355.09" y="631.04" width="5.89" height="5.76" fill="#8cf03e"/>
<rect x="360.68" y="631.04" width="5.89" height="5.76" fill="#74cf36"/>
<rect x="366.27" y="631.04" width="5.89" height="5.76" fill="#e80000"/>
<rect x="371.86" y="631.04" width="5.89" height="5.76" fill="#4f9a2a"/>
<rect x="377.44" y="631.04" width="5.89" height="5.76" fill="#8cf03e"/>
<rect x="383.03" y="631.04" width="5.89" height="5.76" fill="#132a0a"/>
<rect x="388.62" y="631.04" width="5.89" height="5.76" fill="#8cf03e"/>
<rect x="394.21" y="631.04" width="5.89" height="5.76" fill="#74cf36"/>
<rect x="349.50" y="636.50" width="5.89" height="5.76" fill="#250606"/>
<rect x="355.09" y="636.50" width="5.89" height="5.76" fill="#74cf36"/>
<rect x="360.68" y="636.50" width="5.89" height="5.76" fill="#e80000"/>
<rect x="366.27" y="636.50" width="5.89" height="5.76" fill="#250606"/>
<rect x="371.86" y="636.50" width="5.89" height="5.76" fill="#960000"/>
<rect x="377.44" y="636.50" width="5.89" height="5.76" fill="#250606"/>
<rect x="383.03" y="636.50" width="5.89" height="5.76" fill="#8cf03e"/>
<rect x="388.62" y="636.50" width="5.89" height="5.76" fill="#4f9a2a"/>
<rect x="394.21" y="636.50" width="5.89" height="5.76" fill="#5a0000"/>
<rect x="349.50" y="641.97" width="5.89" height="5.76" fill="#250606"/>
<rect x="355.09" y="641.97" width="5.89" height="5.76" fill="#2e5e1a"/>
<rect x="360.68" y="641.97" width="5.89" height="5.76" fill="#e80000"/>
<rect x="366.27" y="641.97" width="5.89" height="5.76" fill="#2e5e1a"/>
<rect x="371.86" y="641.97" width="5.89" height="5.76" fill="#5a0000"/>
<rect x="377.44" y="641.97" width="5.89" height="5.76" fill="#8cf03e"/>
<rect x="383.03" y="641.97" width="5.89" height="5.76" fill="#74cf36"/>
<rect x="388.62" y="641.97" width="5.89" height="5.76" fill="#250606"/>
<rect x="394.21" y="641.97" width="5.89" height="5.76" fill="#2e5e1a"/>
<rect x="349.50" y="647.43" width="5.89" height="5.76" fill="#2e5e1a"/>
<rect x="355.09" y="647.43" width="5.89" height="5.76" fill="#4f9a2a"/>
<rect x="360.68" y="647.43" width="5.89" height="5.76" fill="#e80000"/>
<rect x="366.27" y="647.43" width="5.89" height="5.76" fill="#4f9a2a"/>
<rect x="371.86" y="647.43" width="5.89" height="5.76" fill="#2e5e1a"/>
<rect x="377.44" y="647.43" width="5.89" height="5.76" fill="#2e5e1a"/>
<rect x="383.03" y="647.43" width="5.89" height="5.76" fill="#8cf03e"/>
<rect x="388.62" y="647.43" width="5.89" height="5.76" fill="#74cf36"/>
<rect x="394.21" y="647.43" width="5.89" height="5.76" fill="#74cf36"/>
<rect x="349.50" y="652.89" width="5.89" height="5.76" fill="#8cf03e"/>
<rect x="355.09" y="652.89" width="5.89" height="5.76" fill="#8cf03e"/>
<rect x="360.68" y="652.89" width="5.89" height="5.76" fill="#2e5e1a"/>
<rect x="366.27" y="652.89" width="5.89" height="5.76" fill="#4f9a2a"/>
<rect x="371.86" y="652.89" width="5.89" height="5.76" fill="#5a0000"/>
<rect x="377.44" y="652.89" width="5.89" height="5.76" fill="#e80000"/>
<rect x="383.03" y="652.89" width="5.89" height="5.76" fill="#960000"/>
<rect x="388.62" y="652.89" width="5.89" height="5.76" fill="#8cf03e"/>
<rect x="394.21" y="652.89" width="5.89" height="5.76" fill="#8cf03e"/>
<rect x="349.50" y="658.35" width="5.89" height="5.76" fill="#4f9a2a"/>
<rect x="355.09" y="658.35" width="5.89" height="5.76" fill="#74cf36"/>
<rect x="360.68" y="658.35" width="5.89" height="5.76" fill="#2e5e1a"/>
<rect x="366.27" y="658.35" width="5.89" height="5.76" fill="#74cf36"/>
<rect x="371.86" y="658.35" width="5.89" height="5.76" fill="#e80000"/>
<rect x="377.44" y="658.35" width="5.89" height="5.76" fill="#250606"/>
<rect x="383.03" y="658.35" width="5.89" height="5.76" fill="#74cf36"/>
<rect x="388.62" y="658.35" width="5.89" height="5.76" fill="#8cf03e"/>
<rect x="394.21" y="658.35" width="5.89" height="5.76" fill="#8cf03e"/>
<rect x="349.50" y="663.81" width="5.89" height="5.76" fill="#8cf03e"/>
<rect x="355.09" y="663.81" width="5.89" height="5.76" fill="#2e5e1a"/>
<rect x="360.68" y="663.81" width="5.89" height="5.76" fill="#8cf03e"/>
<rect x="366.27" y="663.81" width="5.89" height="5.76" fill="#4f9a2a"/>
<rect x="371.86" y="663.81" width="5.89" height="5.76" fill="#960000"/>
<rect x="377.44" y="663.81" width="5.89" height="5.76" fill="#e80000"/>
<rect x="383.03" y="663.81" width="5.89" height="5.76" fill="#4f9a2a"/>
<rect x="388.62" y="663.81" width="5.89" height="5.76" fill="#2e5e1a"/>
<rect x="394.21" y="663.81" width="5.89" height="5.76" fill="#4f9a2a"/>
<rect x="349.50" y="669.28" width="5.89" height="5.76" fill="#8cf03e"/>
<rect x="355.09" y="669.28" width="5.89" height="5.76" fill="#8cf03e"/>
<rect x="360.68" y="669.28" width="5.89" height="5.76" fill="#8cf03e"/>
<rect x="366.27" y="669.28" width="5.89" height="5.76" fill="#74cf36"/>
<rect x="371.86" y="669.28" width="5.89" height="5.76" fill="#5a0000"/>
<rect x="377.44" y="669.28" width="5.89" height="5.76" fill="#e80000"/>
<rect x="383.03" y="669.28" width="5.89" height="5.76" fill="#8cf03e"/>
<rect x="388.62" y="669.28" width="5.89" height="5.76" fill="#8cf03e"/>
<rect x="394.21" y="669.28" width="5.89" height="5.76" fill="#8cf03e"/>
<rect x="349.50" y="674.74" width="5.89" height="5.76" fill="#74cf36"/>
<rect x="355.09" y="674.74" width="5.89" height="5.76" fill="#8cf03e"/>
<rect x="360.68" y="674.74" width="5.89" height="5.76" fill="#4f9a2a"/>
<rect x="366.27" y="674.74" width="5.89" height="5.76" fill="#4f9a2a"/>
<rect x="371.86" y="674.74" width="5.89" height="5.76" fill="#250606"/>
<rect x="377.44" y="674.74" width="5.89" height="5.76" fill="#e80000"/>
<rect x="383.03" y="674.74" width="5.89" height="5.76" fill="#8cf03e"/>
<rect x="388.62" y="674.74" width="5.89" height="5.76" fill="#8cf03e"/>
<rect x="394.21" y="674.74" width="5.89" height="5.76" fill="#8cf03e"/>
<rect x="349.50" y="680.20" width="5.89" height="5.76" fill="#8cf03e"/>
<rect x="355.09" y="680.20" width="5.89" height="5.76" fill="#2e5e1a"/>
<rect x="360.68" y="680.20" width="5.89" height="5.76" fill="#8cf03e"/>
<rect x="366.27" y="680.20" width="5.89" height="5.76" fill="#250606"/>
<rect x="371.86" y="680.20" width="5.89" height="5.76" fill="#960000"/>
<rect x="377.44" y="680.20" width="5.89" height="5.76" fill="#e80000"/>
<rect x="383.03" y="680.20" width="5.89" height="5.76" fill="#8cf03e"/>
<rect x="388.62" y="680.20" width="5.89" height="5.76" fill="#2e5e1a"/>
<rect x="394.21" y="680.20" width="5.89" height="5.76" fill="#4f9a2a"/>
<rect x="349.50" y="685.66" width="5.89" height="5.76" fill="#8cf03e"/>
<rect x="355.09" y="685.66" width="5.89" height="5.76" fill="#8cf03e"/>
<rect x="360.68" y="685.66" width="5.89" height="5.76" fill="#8cf03e"/>
<rect x="366.27" y="685.66" width="5.89" height="5.76" fill="#e80000"/>
<rect x="371.86" y="685.66" width="5.89" height="5.76" fill="#250606"/>
<rect x="377.44" y="685.66" width="5.89" height="5.76" fill="#e80000"/>
<rect x="383.03" y="685.66" width="5.89" height="5.76" fill="#8cf03e"/>
<rect x="388.62" y="685.66" width="5.89" height="5.76" fill="#8cf03e"/>
<rect x="394.21" y="685.66" width="5.89" height="5.76" fill="#8cf03e"/>
<rect x="349.50" y="691.12" width="5.89" height="5.76" fill="#8cf03e"/>
<rect x="355.09" y="691.12" width="5.89" height="5.76" fill="#8cf03e"/>
<rect x="360.68" y="691.12" width="5.89" height="5.76" fill="#8cf03e"/>
<rect x="366.27" y="691.12" width="5.89" height="5.76" fill="#e80000"/>
<rect x="371.86" y="691.12" width="5.89" height="5.76" fill="#5a0000"/>
<rect x="377.44" y="691.12" width="5.89" height="5.76" fill="#e80000"/>
<rect x="383.03" y="691.12" width="5.89" height="5.76" fill="#8cf03e"/>
<rect x="388.62" y="691.12" width="5.89" height="5.76" fill="#74cf36"/>
<rect x="394.21" y="691.12" width="5.89" height="5.76" fill="#8cf03e"/>
<rect x="349.50" y="696.59" width="5.89" height="5.76" fill="#8cf03e"/>
<rect x="355.09" y="696.59" width="5.89" height="5.76" fill="#8cf03e"/>
<rect x="360.68" y="696.59" width="5.89" height="5.76" fill="#8cf03e"/>
<rect x="366.27" y="696.59" width="5.89" height="5.76" fill="#5a0000"/>
<rect x="371.86" y="696.59" width="5.89" height="5.76" fill="#960000"/>
<rect x="377.44" y="696.59" width="5.89" height="5.76" fill="#e80000"/>
<rect x="383.03" y="696.59" width="5.89" height="5.76" fill="#4f9a2a"/>
<rect x="388.62" y="696.59" width="5.89" height="5.76" fill="#4f9a2a"/>
<rect x="394.21" y="696.59" width="5.89" height="5.76" fill="#74cf36"/>
<rect x="349.50" y="702.05" width="5.89" height="5.76" fill="#74cf36"/>
<rect x="355.09" y="702.05" width="5.89" height="5.76" fill="#4f9a2a"/>
<rect x="360.68" y="702.05" width="5.89" height="5.76" fill="#8cf03e"/>
<rect x="366.27" y="702.05" width="5.89" height="5.76" fill="#5a0000"/>
<rect x="371.86" y="702.05" width="5.89" height="5.76" fill="#5a0000"/>
<rect x="377.44" y="702.05" width="5.89" height="5.76" fill="#e80000"/>
<rect x="383.03" y="702.05" width="5.89" height="5.76" fill="#74cf36"/>
<rect x="388.62" y="702.05" width="5.89" height="5.76" fill="#8cf03e"/>
<rect x="394.21" y="702.05" width="5.89" height="5.76" fill="#8cf03e"/>
<rect x="349.50" y="707.51" width="5.89" height="5.76" fill="#8cf03e"/>
<rect x="355.09" y="707.51" width="5.89" height="5.76" fill="#8cf03e"/>
<rect x="360.68" y="707.51" width="5.89" height="5.76" fill="#8cf03e"/>
<rect x="366.27" y="707.51" width="5.89" height="5.76" fill="#5a0000"/>
<rect x="371.86" y="707.51" width="5.89" height="5.76" fill="#960000"/>
<rect x="377.44" y="707.51" width="5.89" height="5.76" fill="#e80000"/>
<rect x="383.03" y="707.51" width="5.89" height="5.76" fill="#8cf03e"/>
<rect x="388.62" y="707.51" width="5.89" height="5.76" fill="#74cf36"/>
<rect x="394.21" y="707.51" width="5.89" height="5.76" fill="#8cf03e"/>
<rect x="349.50" y="712.97" width="5.89" height="5.76" fill="#8cf03e"/>
<rect x="355.09" y="712.97" width="5.89" height="5.76" fill="#74cf36"/>
<rect x="360.68" y="712.97" width="5.89" height="5.76" fill="#8cf03e"/>
<rect x="366.27" y="712.97" width="5.89" height="5.76" fill="#5a0000"/>
<rect x="371.86" y="712.97" width="5.89" height="5.76" fill="#5a0000"/>
<rect x="377.44" y="712.97" width="5.89" height="5.76" fill="#e80000"/>
<rect x="383.03" y="712.97" width="5.89" height="5.76" fill="#8cf03e"/>
<rect x="388.62" y="712.97" width="5.89" height="5.76" fill="#74cf36"/>
<rect x="394.21" y="712.97" width="5.89" height="5.76" fill="#74cf36"/>
<rect x="349.50" y="718.43" width="5.89" height="5.76" fill="#8cf03e"/>
<rect x="355.09" y="718.43" width="5.89" height="5.76" fill="#8cf03e"/>
<rect x="360.68" y="718.43" width="5.89" height="5.76" fill="#8cf03e"/>
<rect x="366.27" y="718.43" width="5.89" height="5.76" fill="#250606"/>
<rect x="371.86" y="718.43" width="5.89" height="5.76" fill="#250606"/>
<rect x="377.44" y="718.43" width="5.89" height="5.76" fill="#e80000"/>
<rect x="383.03" y="718.43" width="5.89" height="5.76" fill="#8cf03e"/>
<rect x="388.62" y="718.43" width="5.89" height="5.76" fill="#74cf36"/>
<rect x="394.21" y="718.43" width="5.89" height="5.76" fill="#8cf03e"/>
<rect x="349.50" y="723.90" width="5.89" height="5.76" fill="#74cf36"/>
<rect x="355.09" y="723.90" width="5.89" height="5.76" fill="#2e5e1a"/>
<rect x="360.68" y="723.90" width="5.89" height="5.76" fill="#8cf03e"/>
<rect x="366.27" y="723.90" width="5.89" height="5.76" fill="#250606"/>
<rect x="371.86" y="723.90" width="5.89" height="5.76" fill="#e80000"/>
<rect x="377.44" y="723.90" width="5.89" height="5.76" fill="#132a0a"/>
<rect x="383.03" y="723.90" width="5.89" height="5.76" fill="#74cf36"/>
<rect x="388.62" y="723.90" width="5.89" height="5.76" fill="#2e5e1a"/>
<rect x="394.21" y="723.90" width="5.89" height="5.76" fill="#74cf36"/>
<rect x="349.50" y="729.36" width="5.89" height="5.76" fill="#74cf36"/>
<rect x="355.09" y="729.36" width="5.89" height="5.76" fill="#74cf36"/>
<rect x="360.68" y="729.36" width="5.89" height="5.76" fill="#8cf03e"/>
<rect x="366.27" y="729.36" width="5.89" height="5.76" fill="#2e5e1a"/>
<rect x="371.86" y="729.36" width="5.89" height="5.76" fill="#e80000"/>
<rect x="377.44" y="729.36" width="5.89" height="5.76" fill="#250606"/>
<rect x="383.03" y="729.36" width="5.89" height="5.76" fill="#74cf36"/>
<rect x="388.62" y="729.36" width="5.89" height="5.76" fill="#74cf36"/>
<rect x="394.21" y="729.36" width="5.89" height="5.76" fill="#8cf03e"/>
<rect x="349.50" y="734.82" width="5.89" height="5.76" fill="#8cf03e"/>
<rect x="355.09" y="734.82" width="5.89" height="5.76" fill="#74cf36"/>
<rect x="360.68" y="734.82" width="5.89" height="5.76" fill="#8cf03e"/>
<rect x="366.27" y="734.82" width="5.89" height="5.76" fill="#2e5e1a"/>
<rect x="371.86" y="734.82" width="5.89" height="5.76" fill="#e80000"/>
<rect x="377.44" y="734.82" width="5.89" height="5.76" fill="#132a0a"/>
<rect x="383.03" y="734.82" width="5.89" height="5.76" fill="#8cf03e"/>
<rect x="388.62" y="734.82" width="5.89" height="5.76" fill="#74cf36"/>
<rect x="394.21" y="734.82" width="5.89" height="5.76" fill="#8cf03e"/>
<rect x="349.50" y="740.28" width="5.89" height="5.76" fill="#8cf03e"/>
<rect x="355.09" y="740.28" width="5.89" height="5.76" fill="#74cf36"/>
<rect x="360.68" y="740.28" width="5.89" height="5.76" fill="#8cf03e"/>
<rect x="366.27" y="740.28" width="5.89" height="5.76" fill="#132a0a"/>
<rect x="371.86" y="740.28" width="5.89" height="5.76" fill="#e80000"/>
<rect x="377.44" y="740.28" width="5.89" height="5.76" fill="#2e5e1a"/>
<rect x="383.03" y="740.28" width="5.89" height="5.76" fill="#8cf03e"/>
<rect x="388.62" y="740.28" width="5.89" height="5.76" fill="#74cf36"/>
<rect x="394.21" y="740.28" width="5.89" height="5.76" fill="#8cf03e"/>
<rect x="349.50" y="745.74" width="5.89" height="5.76" fill="#8cf03e"/>
<rect x="355.09" y="745.74" width="5.89" height="5.76" fill="#8cf03e"/>
<rect x="360.68" y="745.74" width="5.89" height="5.76" fill="#8cf03e"/>
<rect x="366.27" y="745.74" width="5.89" height="5.76" fill="#250606"/>
<rect x="371.86" y="745.74" width="5.89" height="5.76" fill="#e80000"/>
<rect x="377.44" y="745.74" width="5.89" height="5.76" fill="#250606"/>
<rect x="383.03" y="745.74" width="5.89" height="5.76" fill="#4f9a2a"/>
<rect x="388.62" y="745.74" width="5.89" height="5.76" fill="#8cf03e"/>
<rect x="394.21" y="745.74" width="5.89" height="5.76" fill="#8cf03e"/>
<rect x="349.50" y="751.20" width="5.89" height="5.76" fill="#8cf03e"/>
<rect x="355.09" y="751.20" width="5.89" height="5.76" fill="#8cf03e"/>
<rect x="360.68" y="751.20" width="5.89" height="5.76" fill="#8cf03e"/>
<rect x="366.27" y="751.20" width="5.89" height="5.76" fill="#5a0000"/>
<rect x="371.86" y="751.20" width="5.89" height="5.76" fill="#e80000"/>
<rect x="377.44" y="751.20" width="5.89" height="5.76" fill="#960000"/>
<rect x="383.03" y="751.20" width="5.89" height="5.76" fill="#8cf03e"/>
<rect x="388.62" y="751.20" width="5.89" height="5.76" fill="#8cf03e"/>
<rect x="394.21" y="751.20" width="5.89" height="5.76" fill="#8cf03e"/>
<rect x="349.50" y="756.67" width="5.89" height="5.76" fill="#2e5e1a"/>
<rect x="355.09" y="756.67" width="5.89" height="5.76" fill="#2e5e1a"/>
<rect x="360.68" y="756.67" width="5.89" height="5.76" fill="#4f9a2a"/>
<rect x="366.27" y="756.67" width="5.89" height="5.76" fill="#960000"/>
<rect x="371.86" y="756.67" width="5.89" height="5.76" fill="#e80000"/>
<rect x="377.44" y="756.67" width="5.89" height="5.76" fill="#250606"/>
<rect x="383.03" y="756.67" width="5.89" height="5.76" fill="#8cf03e"/>
<rect x="388.62" y="756.67" width="5.89" height="5.76" fill="#4f9a2a"/>
<rect x="394.21" y="756.67" width="5.89" height="5.76" fill="#132a0a"/>
<rect x="349.50" y="762.13" width="5.89" height="5.76" fill="#132a0a"/>
<rect x="355.09" y="762.13" width="5.89" height="5.76" fill="#132a0a"/>
<rect x="360.68" y="762.13" width="5.89" height="5.76" fill="#4f9a2a"/>
<rect x="366.27" y="762.13" width="5.89" height="5.76" fill="#960000"/>
<rect x="371.86" y="762.13" width="5.89" height="5.76" fill="#e80000"/>
<rect x="377.44" y="762.13" width="5.89" height="5.76" fill="#e80000"/>
<rect x="383.03" y="762.13" width="5.89" height="5.76" fill="#8cf03e"/>
<rect x="388.62" y="762.13" width="5.89" height="5.76" fill="#132a0a"/>
<rect x="394.21" y="762.13" width="5.89" height="5.76" fill="#4f9a2a"/>
<rect x="349.50" y="767.59" width="5.89" height="5.76" fill="#74cf36"/>
<rect x="355.09" y="767.59" width="5.89" height="5.76" fill="#4f9a2a"/>
<rect x="360.68" y="767.59" width="5.89" height="5.76" fill="#8cf03e"/>
<rect x="366.27" y="767.59" width="5.89" height="5.76" fill="#960000"/>
<rect x="371.86" y="767.59" width="5.89" height="5.76" fill="#e80000"/>
<rect x="377.44" y="767.59" width="5.89" height="5.76" fill="#5a0000"/>
<rect x="383.03" y="767.59" width="5.89" height="5.76" fill="#8cf03e"/>
<rect x="388.62" y="767.59" width="5.89" height="5.76" fill="#2e5e1a"/>
<rect x="394.21" y="767.59" width="5.89" height="5.76" fill="#74cf36"/>
<rect x="349.50" y="773.05" width="5.89" height="5.76" fill="#74cf36"/>
<rect x="355.09" y="773.05" width="5.89" height="5.76" fill="#4f9a2a"/>
<rect x="360.68" y="773.05" width="5.89" height="5.76" fill="#8cf03e"/>
<rect x="366.27" y="773.05" width="5.89" height="5.76" fill="#e80000"/>
<rect x="371.86" y="773.05" width="5.89" height="5.76" fill="#e80000"/>
<rect x="377.44" y="773.05" width="5.89" height="5.76" fill="#e80000"/>
<rect x="383.03" y="773.05" width="5.89" height="5.76" fill="#8cf03e"/>
<rect x="388.62" y="773.05" width="5.89" height="5.76" fill="#2e5e1a"/>
<rect x="394.21" y="773.05" width="5.89" height="5.76" fill="#8cf03e"/>
<rect x="349.50" y="778.51" width="5.89" height="5.76" fill="#4f9a2a"/>
<rect x="355.09" y="778.51" width="5.89" height="5.76" fill="#2e5e1a"/>
<rect x="360.68" y="778.51" width="5.89" height="5.76" fill="#4f9a2a"/>
<rect x="366.27" y="778.51" width="5.89" height="5.76" fill="#4f9a2a"/>
<rect x="371.86" y="778.51" width="5.89" height="5.76" fill="#e80000"/>
<rect x="377.44" y="778.51" width="5.89" height="5.76" fill="#2e5e1a"/>
<rect x="383.03" y="778.51" width="5.89" height="5.76" fill="#8cf03e"/>
<rect x="388.62" y="778.51" width="5.89" height="5.76" fill="#2e5e1a"/>
<rect x="394.21" y="778.51" width="5.89" height="5.76" fill="#4f9a2a"/>
<rect x="349.50" y="783.98" width="5.89" height="5.76" fill="#74cf36"/>
<rect x="355.09" y="783.98" width="5.89" height="5.76" fill="#4f9a2a"/>
<rect x="360.68" y="783.98" width="5.89" height="5.76" fill="#8cf03e"/>
<rect x="366.27" y="783.98" width="5.89" height="5.76" fill="#74cf36"/>
<rect x="371.86" y="783.98" width="5.89" height="5.76" fill="#e80000"/>
<rect x="377.44" y="783.98" width="5.89" height="5.76" fill="#4f9a2a"/>
<rect x="383.03" y="783.98" width="5.89" height="5.76" fill="#74cf36"/>
<rect x="388.62" y="783.98" width="5.89" height="5.76" fill="#4f9a2a"/>
<rect x="394.21" y="783.98" width="5.89" height="5.76" fill="#74cf36"/>
<rect x="349.50" y="789.44" width="5.89" height="5.76" fill="#4f9a2a"/>
<rect x="355.09" y="789.44" width="5.89" height="5.76" fill="#132a0a"/>
<rect x="360.68" y="789.44" width="5.89" height="5.76" fill="#8cf03e"/>
<rect x="366.27" y="789.44" width="5.89" height="5.76" fill="#4f9a2a"/>
<rect x="371.86" y="789.44" width="5.89" height="5.76" fill="#e80000"/>
<rect x="377.44" y="789.44" width="5.89" height="5.76" fill="#4f9a2a"/>
<rect x="383.03" y="789.44" width="5.89" height="5.76" fill="#4f9a2a"/>
<rect x="388.62" y="789.44" width="5.89" height="5.76" fill="#132a0a"/>
<rect x="394.21" y="789.44" width="5.89" height="5.76" fill="#2e5e1a"/>
<rect x="349.50" y="794.90" width="5.89" height="5.76" fill="#8cf03e"/>
<rect x="355.09" y="794.90" width="5.89" height="5.76" fill="#8cf03e"/>
<rect x="360.68" y="794.90" width="5.89" height="5.76" fill="#8cf03e"/>
<rect x="366.27" y="794.90" width="5.89" height="5.76" fill="#74cf36"/>
<rect x="371.86" y="794.90" width="5.89" height="5.76" fill="#e80000"/>
<rect x="377.44" y="794.90" width="5.89" height="5.76" fill="#74cf36"/>
<rect x="383.03" y="794.90" width="5.89" height="5.76" fill="#8cf03e"/>
<rect x="388.62" y="794.90" width="5.89" height="5.76" fill="#8cf03e"/>
<rect x="394.21" y="794.90" width="5.89" height="5.76" fill="#8cf03e"/>
<rect x="349.50" y="800.36" width="5.89" height="5.76" fill="#8cf03e"/>
<rect x="355.09" y="800.36" width="5.89" height="5.76" fill="#8cf03e"/>
<rect x="360.68" y="800.36" width="5.89" height="5.76" fill="#8cf03e"/>
<rect x="366.27" y="800.36" width="5.89" height="5.76" fill="#2e5e1a"/>
<rect x="371.86" y="800.36" width="5.89" height="5.76" fill="#e80000"/>
<rect x="377.44" y="800.36" width="5.89" height="5.76" fill="#74cf36"/>
<rect x="383.03" y="800.36" width="5.89" height="5.76" fill="#8cf03e"/>
<rect x="388.62" y="800.36" width="5.89" height="5.76" fill="#8cf03e"/>
<rect x="394.21" y="800.36" width="5.89" height="5.76" fill="#8cf03e"/>
<rect x="349.50" y="805.82" width="5.89" height="5.76" fill="#8cf03e"/>
<rect x="355.09" y="805.82" width="5.89" height="5.76" fill="#74cf36"/>
<rect x="360.68" y="805.82" width="5.89" height="5.76" fill="#8cf03e"/>
<rect x="366.27" y="805.82" width="5.89" height="5.76" fill="#132a0a"/>
<rect x="371.86" y="805.82" width="5.89" height="5.76" fill="#e80000"/>
<rect x="377.44" y="805.82" width="5.89" height="5.76" fill="#2e5e1a"/>
<rect x="383.03" y="805.82" width="5.89" height="5.76" fill="#8cf03e"/>
<rect x="388.62" y="805.82" width="5.89" height="5.76" fill="#74cf36"/>
<rect x="394.21" y="805.82" width="5.89" height="5.76" fill="#74cf36"/>
<rect x="349.50" y="811.29" width="5.89" height="5.76" fill="#8cf03e"/>
<rect x="355.09" y="811.29" width="5.89" height="5.76" fill="#74cf36"/>
<rect x="360.68" y="811.29" width="5.89" height="5.76" fill="#8cf03e"/>
<rect x="366.27" y="811.29" width="5.89" height="5.76" fill="#132a0a"/>
<rect x="371.86" y="811.29" width="5.89" height="5.76" fill="#e80000"/>
<rect x="377.44" y="811.29" width="5.89" height="5.76" fill="#2e5e1a"/>
<rect x="383.03" y="811.29" width="5.89" height="5.76" fill="#74cf36"/>
<rect x="388.62" y="811.29" width="5.89" height="5.76" fill="#74cf36"/>
<rect x="394.21" y="811.29" width="5.89" height="5.76" fill="#74cf36"/>
<rect x="349.50" y="816.75" width="5.89" height="5.76" fill="#2e5e1a"/>
<rect x="355.09" y="816.75" width="5.89" height="5.76" fill="#2e5e1a"/>
<rect x="360.68" y="816.75" width="5.89" height="5.76" fill="#4f9a2a"/>
<rect x="366.27" y="816.75" width="5.89" height="5.76" fill="#2e5e1a"/>
<rect x="371.86" y="816.75" width="5.89" height="5.76" fill="#e80000"/>
<rect x="377.44" y="816.75" width="5.89" height="5.76" fill="#8cf03e"/>
<rect x="383.03" y="816.75" width="5.89" height="5.76" fill="#74cf36"/>
<rect x="388.62" y="816.75" width="5.89" height="5.76" fill="#2e5e1a"/>
<rect x="394.21" y="816.75" width="5.89" height="5.76" fill="#74cf36"/>
<rect x="349.50" y="822.21" width="5.89" height="5.76" fill="#4f9a2a"/>
<rect x="355.09" y="822.21" width="5.89" height="5.76" fill="#132a0a"/>
<rect x="360.68" y="822.21" width="5.89" height="5.76" fill="#74cf36"/>
<rect x="366.27" y="822.21" width="5.89" height="5.76" fill="#132a0a"/>
<rect x="371.86" y="822.21" width="5.89" height="5.76" fill="#e80000"/>
<rect x="377.44" y="822.21" width="5.89" height="5.76" fill="#132a0a"/>
<rect x="383.03" y="822.21" width="5.89" height="5.76" fill="#8cf03e"/>
<rect x="388.62" y="822.21" width="5.89" height="5.76" fill="#132a0a"/>
<rect x="394.21" y="822.21" width="5.89" height="5.76" fill="#2e5e1a"/>
<rect x="349.50" y="827.67" width="5.89" height="5.76" fill="#74cf36"/>
<rect x="355.09" y="827.67" width="5.89" height="5.76" fill="#2e5e1a"/>
<rect x="360.68" y="827.67" width="5.89" height="5.76" fill="#8cf03e"/>
<rect x="366.27" y="827.67" width="5.89" height="5.76" fill="#2e5e1a"/>
<rect x="371.86" y="827.67" width="5.89" height="5.76" fill="#e80000"/>
<rect x="377.44" y="827.67" width="5.89" height="5.76" fill="#74cf36"/>
<rect x="383.03" y="827.67" width="5.89" height="5.76" fill="#8cf03e"/>
<rect x="388.62" y="827.67" width="5.89" height="5.76" fill="#4f9a2a"/>
<rect x="394.21" y="827.67" width="5.89" height="5.76" fill="#4f9a2a"/>
<rect x="349.50" y="833.13" width="5.89" height="5.76" fill="#4f9a2a"/>
<rect x="355.09" y="833.13" width="5.89" height="5.76" fill="#5a0000"/>
<rect x="360.68" y="833.13" width="5.89" height="5.76" fill="#8cf03e"/>
<rect x="366.27" y="833.13" width="5.89" height="5.76" fill="#4f9a2a"/>
<rect x="371.86" y="833.13" width="5.89" height="5.76" fill="#e80000"/>
<rect x="377.44" y="833.13" width="5.89" height="5.76" fill="#132a0a"/>
<rect x="383.03" y="833.13" width="5.89" height="5.76" fill="#74cf36"/>
<rect x="388.62" y="833.13" width="5.89" height="5.76" fill="#132a0a"/>
<rect x="394.21" y="833.13" width="5.89" height="5.76" fill="#4f9a2a"/>
<rect x="349.50" y="838.60" width="5.89" height="5.76" fill="#4f9a2a"/>
<rect x="355.09" y="838.60" width="5.89" height="5.76" fill="#5a0000"/>
<rect x="360.68" y="838.60" width="5.89" height="5.76" fill="#8cf03e"/>
<rect x="366.27" y="838.60" width="5.89" height="5.76" fill="#4f9a2a"/>
<rect x="371.86" y="838.60" width="5.89" height="5.76" fill="#e80000"/>
<rect x="377.44" y="838.60" width="5.89" height="5.76" fill="#4f9a2a"/>
<rect x="383.03" y="838.60" width="5.89" height="5.76" fill="#4f9a2a"/>
<rect x="388.62" y="838.60" width="5.89" height="5.76" fill="#250606"/>
<rect x="394.21" y="838.60" width="5.89" height="5.76" fill="#250606"/>
<rect x="349.50" y="844.06" width="5.89" height="5.76" fill="#4f9a2a"/>
<rect x="355.09" y="844.06" width="5.89" height="5.76" fill="#250606"/>
<rect x="360.68" y="844.06" width="5.89" height="5.76" fill="#8cf03e"/>
<rect x="366.27" y="844.06" width="5.89" height="5.76" fill="#4f9a2a"/>
<rect x="371.86" y="844.06" width="5.89" height="5.76" fill="#e80000"/>
<rect x="377.44" y="844.06" width="5.89" height="5.76" fill="#132a0a"/>
<rect x="383.03" y="844.06" width="5.89" height="5.76" fill="#4f9a2a"/>
<rect x="388.62" y="844.06" width="5.89" height="5.76" fill="#132a0a"/>
<rect x="394.21" y="844.06" width="5.89" height="5.76" fill="#132a0a"/>
<rect x="349.50" y="849.52" width="5.89" height="5.76" fill="#250606"/>
<rect x="355.09" y="849.52" width="5.89" height="5.76" fill="#132a0a"/>
<rect x="360.68" y="849.52" width="5.89" height="5.76" fill="#250606"/>
<rect x="366.27" y="849.52" width="5.89" height="5.76" fill="#e80000"/>
<rect x="371.86" y="849.52" width="5.89" height="5.76" fill="#e80000"/>
<rect x="377.44" y="849.52" width="5.89" height="5.76" fill="#8cf03e"/>
<rect x="383.03" y="849.52" width="5.89" height="5.76" fill="#250606"/>
<rect x="388.62" y="849.52" width="5.89" height="5.76" fill="#250606"/>
<rect x="394.21" y="849.52" width="5.89" height="5.76" fill="#132a0a"/>
<rect x="349.50" y="854.98" width="5.89" height="5.76" fill="#74cf36"/>
<rect x="355.09" y="854.98" width="5.89" height="5.76" fill="#74cf36"/>
<rect x="360.68" y="854.98" width="5.89" height="5.76" fill="#74cf36"/>
<rect x="366.27" y="854.98" width="5.89" height="5.76" fill="#e80000"/>
<rect x="371.86" y="854.98" width="5.89" height="5.76" fill="#5a0000"/>
<rect x="377.44" y="854.98" width="5.89" height="5.76" fill="#4f9a2a"/>
<rect x="383.03" y="854.98" width="5.89" height="5.76" fill="#74cf36"/>
<rect x="388.62" y="854.98" width="5.89" height="5.76" fill="#74cf36"/>
<rect x="394.21" y="854.98" width="5.89" height="5.76" fill="#8cf03e"/>
<rect x="349.50" y="860.44" width="5.89" height="5.76" fill="#8cf03e"/>
<rect x="355.09" y="860.44" width="5.89" height="5.76" fill="#74cf36"/>
<rect x="360.68" y="860.44" width="5.89" height="5.76" fill="#8cf03e"/>
<rect x="366.27" y="860.44" width="5.89" height="5.76" fill="#e80000"/>
<rect x="371.86" y="860.44" width="5.89" height="5.76" fill="#5a0000"/>
<rect x="377.44" y="860.44" width="5.89" height="5.76" fill="#74cf36"/>
<rect x="383.03" y="860.44" width="5.89" height="5.76" fill="#74cf36"/>
<rect x="388.62" y="860.44" width="5.89" height="5.76" fill="#74cf36"/>
<rect x="394.21" y="860.44" width="5.89" height="5.76" fill="#8cf03e"/>
<rect x="349.50" y="865.90" width="5.89" height="5.76" fill="#74cf36"/>
<rect x="355.09" y="865.90" width="5.89" height="5.76" fill="#8cf03e"/>
<rect x="360.68" y="865.90" width="5.89" height="5.76" fill="#4f9a2a"/>
<rect x="366.27" y="865.90" width="5.89" height="5.76" fill="#5a0000"/>
<rect x="371.86" y="865.90" width="5.89" height="5.76" fill="#e80000"/>
<rect x="377.44" y="865.90" width="5.89" height="5.76" fill="#2e5e1a"/>
<rect x="383.03" y="865.90" width="5.89" height="5.76" fill="#2e5e1a"/>
<rect x="388.62" y="865.90" width="5.89" height="5.76" fill="#74cf36"/>
<rect x="394.21" y="865.90" width="5.89" height="5.76" fill="#8cf03e"/>
<rect x="349.50" y="871.37" width="5.89" height="5.76" fill="#8cf03e"/>
<rect x="355.09" y="871.37" width="5.89" height="5.76" fill="#8cf03e"/>
<rect x="360.68" y="871.37" width="5.89" height="5.76" fill="#74cf36"/>
<rect x="366.27" y="871.37" width="5.89" height="5.76" fill="#960000"/>
<rect x="371.86" y="871.37" width="5.89" height="5.76" fill="#e80000"/>
<rect x="377.44" y="871.37" width="5.89" height="5.76" fill="#250606"/>
<rect x="383.03" y="871.37" width="5.89" height="5.76" fill="#8cf03e"/>
<rect x="388.62" y="871.37" width="5.89" height="5.76" fill="#8cf03e"/>
<rect x="394.21" y="871.37" width="5.89" height="5.76" fill="#8cf03e"/>
<rect x="349.50" y="876.83" width="5.89" height="5.76" fill="#8cf03e"/>
<rect x="355.09" y="876.83" width="5.89" height="5.76" fill="#8cf03e"/>
<rect x="360.68" y="876.83" width="5.89" height="5.76" fill="#8cf03e"/>
<rect x="366.27" y="876.83" width="5.89" height="5.76" fill="#e80000"/>
<rect x="371.86" y="876.83" width="5.89" height="5.76" fill="#e80000"/>
<rect x="377.44" y="876.83" width="5.89" height="5.76" fill="#2e5e1a"/>
<rect x="383.03" y="876.83" width="5.89" height="5.76" fill="#8cf03e"/>
<rect x="388.62" y="876.83" width="5.89" height="5.76" fill="#74cf36"/>
<rect x="394.21" y="876.83" width="5.89" height="5.76" fill="#8cf03e"/>
<rect x="349.50" y="882.29" width="5.89" height="5.76" fill="#74cf36"/>
<rect x="355.09" y="882.29" width="5.89" height="5.76" fill="#4f9a2a"/>
<rect x="360.68" y="882.29" width="5.89" height="5.76" fill="#8cf03e"/>
<rect x="366.27" y="882.29" width="5.89" height="5.76" fill="#5a0000"/>
<rect x="371.86" y="882.29" width="5.89" height="5.76" fill="#e80000"/>
<rect x="377.44" y="882.29" width="5.89" height="5.76" fill="#2e5e1a"/>
<rect x="383.03" y="882.29" width="5.89" height="5.76" fill="#e80000"/>
<rect x="388.62" y="882.29" width="5.89" height="5.76" fill="#4f9a2a"/>
<rect x="394.21" y="882.29" width="5.89" height="5.76" fill="#4f9a2a"/>
<rect x="349.50" y="887.75" width="5.89" height="5.76" fill="#4f9a2a"/>
<rect x="355.09" y="887.75" width="5.89" height="5.76" fill="#4f9a2a"/>
<rect x="360.68" y="887.75" width="5.89" height="5.76" fill="#4f9a2a"/>
<rect x="366.27" y="887.75" width="5.89" height="5.76" fill="#132a0a"/>
<rect x="371.86" y="887.75" width="5.89" height="5.76" fill="#e80000"/>
<rect x="377.44" y="887.75" width="5.89" height="5.76" fill="#4f9a2a"/>
<rect x="383.03" y="887.75" width="5.89" height="5.76" fill="#132a0a"/>
<rect x="388.62" y="887.75" width="5.89" height="5.76" fill="#4f9a2a"/>
<rect x="394.21" y="887.75" width="5.89" height="5.76" fill="#8cf03e"/>
<rect x="349.50" y="893.21" width="5.89" height="5.76" fill="#74cf36"/>
<rect x="355.09" y="893.21" width="5.89" height="5.76" fill="#74cf36"/>
<rect x="360.68" y="893.21" width="5.89" height="5.76" fill="#74cf36"/>
<rect x="366.27" y="893.21" width="5.89" height="5.76" fill="#132a0a"/>
<rect x="371.86" y="893.21" width="5.89" height="5.76" fill="#e80000"/>
<rect x="377.44" y="893.21" width="5.89" height="5.76" fill="#4f9a2a"/>
<rect x="383.03" y="893.21" width="5.89" height="5.76" fill="#250606"/>
<rect x="388.62" y="893.21" width="5.89" height="5.76" fill="#8cf03e"/>
<rect x="394.21" y="893.21" width="5.89" height="5.76" fill="#8cf03e"/>
<rect x="349.50" y="898.68" width="5.89" height="5.76" fill="#74cf36"/>
<rect x="355.09" y="898.68" width="5.89" height="5.76" fill="#4f9a2a"/>
<rect x="360.68" y="898.68" width="5.89" height="5.76" fill="#8cf03e"/>
<rect x="366.27" y="898.68" width="5.89" height="5.76" fill="#e80000"/>
<rect x="371.86" y="898.68" width="5.89" height="5.76" fill="#e80000"/>
<rect x="377.44" y="898.68" width="5.89" height="5.76" fill="#4f9a2a"/>
<rect x="383.03" y="898.68" width="5.89" height="5.76" fill="#132a0a"/>
<rect x="388.62" y="898.68" width="5.89" height="5.76" fill="#2e5e1a"/>
<rect x="394.21" y="898.68" width="5.89" height="5.76" fill="#132a0a"/>
<rect x="349.50" y="904.14" width="5.89" height="5.76" fill="#4f9a2a"/>
<rect x="355.09" y="904.14" width="5.89" height="5.76" fill="#132a0a"/>
<rect x="360.68" y="904.14" width="5.89" height="5.76" fill="#74cf36"/>
<rect x="366.27" y="904.14" width="5.89" height="5.76" fill="#250606"/>
<rect x="371.86" y="904.14" width="5.89" height="5.76" fill="#e80000"/>
<rect x="377.44" y="904.14" width="5.89" height="5.76" fill="#8cf03e"/>
<rect x="383.03" y="904.14" width="5.89" height="5.76" fill="#2e5e1a"/>
<rect x="388.62" y="904.14" width="5.89" height="5.76" fill="#2e5e1a"/>
<rect x="394.21" y="904.14" width="5.89" height="5.76" fill="#2e5e1a"/>
</g>
<text x="344.6" y="455.66190476190474" font-size="6.4" text-anchor="end" fill="#1a1a1a" style="stroke-width:0.28px">NQO1</text>
<text x="344.6" y="461.12380952380954" font-size="6.4" text-anchor="end" fill="#1a1a1a" style="stroke-width:0.28px">CC11</text>
<text x="344.6" y="466.5857142857143" font-size="6.4" text-anchor="end" fill="#1a1a1a" style="stroke-width:0.28px">IL1R2</text>
<text x="344.6" y="472.04761904761904" font-size="6.4" text-anchor="end" fill="#1a1a1a" style="stroke-width:0.28px">TNFSF10</text>
<text x="344.6" y="477.5095238095238" font-size="6.4" text-anchor="end" fill="#1a1a1a" style="stroke-width:0.28px">CD69</text>
<text x="344.6" y="482.97142857142853" font-size="6.4" text-anchor="end" fill="#1a1a1a" style="stroke-width:0.28px">MAP2K6</text>
<text x="344.6" y="488.43333333333334" font-size="6.4" text-anchor="end" fill="#1a1a1a" style="stroke-width:0.28px">SNAP25</text>
<text x="344.6" y="493.8952380952381" font-size="6.4" text-anchor="end" fill="#1a1a1a" style="stroke-width:0.28px">ALDH3A2</text>
<text x="344.6" y="499.35714285714283" font-size="6.4" text-anchor="end" fill="#1a1a1a" style="stroke-width:0.28px">AKT1</text>
<text x="344.6" y="504.81904761904764" font-size="6.4" text-anchor="end" fill="#1a1a1a" style="stroke-width:0.28px">RELA</text>
<text x="344.6" y="510.2809523809524" font-size="6.4" text-anchor="end" fill="#1a1a1a" style="stroke-width:0.28px">FASLG</text>
<text x="344.6" y="515.7428571428571" font-size="6.4" text-anchor="end" fill="#1a1a1a" style="stroke-width:0.28px">REL</text>
<text x="344.6" y="521.2047619047619" font-size="6.4" text-anchor="end" fill="#1a1a1a" style="stroke-width:0.28px">CCR5</text>
<text x="344.6" y="526.6666666666666" font-size="6.4" text-anchor="end" fill="#1a1a1a" style="stroke-width:0.28px">BIRC2</text>
<text x="344.6" y="532.1285714285714" font-size="6.4" text-anchor="end" fill="#1a1a1a" style="stroke-width:0.28px">NR4A2</text>
<text x="344.6" y="537.5904761904761" font-size="6.4" text-anchor="end" fill="#1a1a1a" style="stroke-width:0.28px">TNFRSF1B</text>
<text x="344.6" y="543.052380952381" font-size="6.4" text-anchor="end" fill="#1a1a1a" style="stroke-width:0.28px">CCL5</text>
<text x="344.6" y="548.5142857142857" font-size="6.4" text-anchor="end" fill="#1a1a1a" style="stroke-width:0.28px">STAT5B</text>
<text x="344.6" y="553.9761904761905" font-size="6.4" text-anchor="end" fill="#1a1a1a" style="stroke-width:0.28px">PDGFB</text>
<text x="344.6" y="559.4380952380952" font-size="6.4" text-anchor="end" fill="#1a1a1a" style="stroke-width:0.28px">TNF</text>
<text x="344.6" y="564.9" font-size="6.4" text-anchor="end" fill="#1a1a1a" style="stroke-width:0.28px">SELE</text>
<text x="344.6" y="570.3619047619047" font-size="6.4" text-anchor="end" fill="#1a1a1a" style="stroke-width:0.28px">AGT</text>
<text x="344.6" y="575.8238095238095" font-size="6.4" text-anchor="end" fill="#1a1a1a" style="stroke-width:0.28px">CXCL2</text>
<text x="344.6" y="581.2857142857143" font-size="6.4" text-anchor="end" fill="#1a1a1a" style="stroke-width:0.28px">ADM</text>
<text x="344.6" y="586.747619047619" font-size="6.4" text-anchor="end" fill="#1a1a1a" style="stroke-width:0.28px">CCL22</text>
<text x="344.6" y="592.2095238095238" font-size="6.4" text-anchor="end" fill="#1a1a1a" style="stroke-width:0.28px">CFB</text>
<text x="344.6" y="597.6714285714286" font-size="6.4" text-anchor="end" fill="#1a1a1a" style="stroke-width:0.28px">PLAU</text>
<text x="344.6" y="603.1333333333333" font-size="6.4" text-anchor="end" fill="#1a1a1a" style="stroke-width:0.28px">ICAM1</text>
<text x="344.6" y="608.5952380952381" font-size="6.4" text-anchor="end" fill="#1a1a1a" style="stroke-width:0.28px">F3</text>
<text x="344.6" y="614.0571428571428" font-size="6.4" text-anchor="end" fill="#1a1a1a" style="stroke-width:0.28px">SOD2</text>
<text x="344.6" y="619.5190476190477" font-size="6.4" text-anchor="end" fill="#1a1a1a" style="stroke-width:0.28px">IL2</text>
<text x="344.6" y="624.9809523809523" font-size="6.4" text-anchor="end" fill="#1a1a1a" style="stroke-width:0.28px">MMP9</text>
<text x="344.6" y="630.4428571428572" font-size="6.4" text-anchor="end" fill="#1a1a1a" style="stroke-width:0.28px">IL2RA</text>
<text x="344.6" y="635.9047619047619" font-size="6.4" text-anchor="end" fill="#1a1a1a" style="stroke-width:0.28px">TP53</text>
<text x="344.6" y="641.3666666666667" font-size="6.4" text-anchor="end" fill="#1a1a1a" style="stroke-width:0.28px">NCOA1</text>
<text x="344.6" y="646.8285714285714" font-size="6.4" text-anchor="end" fill="#1a1a1a" style="stroke-width:0.28px">EGR2</text>
<text x="344.6" y="652.2904761904762" font-size="6.4" text-anchor="end" fill="#1a1a1a" style="stroke-width:0.28px">LTB</text>
<text x="344.6" y="657.7523809523809" font-size="6.4" text-anchor="end" fill="#1a1a1a" style="stroke-width:0.28px">INS</text>
<text x="344.6" y="663.2142857142857" font-size="6.4" text-anchor="end" fill="#1a1a1a" style="stroke-width:0.28px">CSF2RB</text>
<text x="344.6" y="668.6761904761905" font-size="6.4" text-anchor="end" fill="#1a1a1a" style="stroke-width:0.28px">VCAM1</text>
<text x="344.6" y="674.1380952380952" font-size="6.4" text-anchor="end" fill="#1a1a1a" style="stroke-width:0.28px">CSF2</text>
<text x="344.6" y="679.6" font-size="6.4" text-anchor="end" fill="#1a1a1a" style="stroke-width:0.28px">EGFR</text>
<text x="344.6" y="685.0619047619048" font-size="6.4" text-anchor="end" fill="#1a1a1a" style="stroke-width:0.28px">IL15</text>
<text x="344.6" y="690.5238095238095" font-size="6.4" text-anchor="end" fill="#1a1a1a" style="stroke-width:0.28px">CXCL1</text>
<text x="344.6" y="695.9857142857143" font-size="6.4" text-anchor="end" fill="#1a1a1a" style="stroke-width:0.28px">IL1B</text>
<text x="344.6" y="701.447619047619" font-size="6.4" text-anchor="end" fill="#1a1a1a" style="stroke-width:0.28px">IL4</text>
<text x="344.6" y="706.9095238095239" font-size="6.4" text-anchor="end" fill="#1a1a1a" style="stroke-width:0.28px">NFKB1</text>
<text x="344.6" y="712.3714285714285" font-size="6.4" text-anchor="end" fill="#1a1a1a" style="stroke-width:0.28px">CXCL8</text>
<text x="344.6" y="717.8333333333334" font-size="6.4" text-anchor="end" fill="#1a1a1a" style="stroke-width:0.28px">CCL2</text>
<text x="344.6" y="723.295238095238" font-size="6.4" text-anchor="end" fill="#1a1a1a" style="stroke-width:0.28px">IL1A</text>
<text x="344.6" y="728.7571428571429" font-size="6.4" text-anchor="end" fill="#1a1a1a" style="stroke-width:0.28px">CDKN1A</text>
<text x="344.6" y="734.2190476190476" font-size="6.4" text-anchor="end" fill="#1a1a1a" style="stroke-width:0.28px">CD83</text>
<text x="344.6" y="739.6809523809524" font-size="6.4" text-anchor="end" fill="#1a1a1a" style="stroke-width:0.28px">CD80</text>
<text x="344.6" y="745.1428571428572" font-size="6.4" text-anchor="end" fill="#1a1a1a" style="stroke-width:0.28px">CXCL10</text>
<text x="344.6" y="750.6047619047619" font-size="6.4" text-anchor="end" fill="#1a1a1a" style="stroke-width:0.28px">CXCL9</text>
<text x="344.6" y="756.0666666666667" font-size="6.4" text-anchor="end" fill="#1a1a1a" style="stroke-width:0.28px">IL6</text>
<text x="344.6" y="761.5285714285714" font-size="6.4" text-anchor="end" fill="#1a1a1a" style="stroke-width:0.28px">F8</text>
<text x="344.6" y="766.9904761904762" font-size="6.4" text-anchor="end" fill="#1a1a1a" style="stroke-width:0.28px">SELP</text>
<text x="344.6" y="772.452380952381" font-size="6.4" text-anchor="end" fill="#1a1a1a" style="stroke-width:0.28px">BCL2A1</text>
<text x="344.6" y="777.9142857142857" font-size="6.4" text-anchor="end" fill="#1a1a1a" style="stroke-width:0.28px">NFKBIA</text>
<text x="344.6" y="783.3761904761905" font-size="6.4" text-anchor="end" fill="#1a1a1a" style="stroke-width:0.28px">MYC</text>
<text x="344.6" y="788.8380952380952" font-size="6.4" text-anchor="end" fill="#1a1a1a" style="stroke-width:0.28px">STAT1</text>
<text x="344.6" y="794.3000000000001" font-size="6.4" text-anchor="end" fill="#1a1a1a" style="stroke-width:0.28px">TRAF2</text>
<text x="344.6" y="799.7619047619047" font-size="6.4" text-anchor="end" fill="#1a1a1a" style="stroke-width:0.28px">CSF1</text>
<text x="344.6" y="805.2238095238096" font-size="6.4" text-anchor="end" fill="#1a1a1a" style="stroke-width:0.28px">IFNG</text>
<text x="344.6" y="810.6857142857142" font-size="6.4" text-anchor="end" fill="#1a1a1a" style="stroke-width:0.28px">IFNB1</text>
<text x="344.6" y="816.1476190476191" font-size="6.4" text-anchor="end" fill="#1a1a1a" style="stroke-width:0.28px">IRF1</text>
<text x="344.6" y="821.6095238095238" font-size="6.4" text-anchor="end" fill="#1a1a1a" style="stroke-width:0.28px">CCND1</text>
<text x="344.6" y="827.0714285714286" font-size="6.4" text-anchor="end" fill="#1a1a1a" style="stroke-width:0.28px">CD40</text>
<text x="344.6" y="832.5333333333334" font-size="6.4" text-anchor="end" fill="#1a1a1a" style="stroke-width:0.28px">LTA</text>
<text x="344.6" y="837.995238095238" font-size="6.4" text-anchor="end" fill="#1a1a1a" style="stroke-width:0.28px">MYD88</text>
<text x="344.6" y="843.4571428571429" font-size="6.4" text-anchor="end" fill="#1a1a1a" style="stroke-width:0.28px">BCL2L1</text>
<text x="344.6" y="848.9190476190475" font-size="6.4" text-anchor="end" fill="#1a1a1a" style="stroke-width:0.28px">FAS</text>
<text x="344.6" y="854.3809523809524" font-size="6.4" text-anchor="end" fill="#1a1a1a" style="stroke-width:0.28px">XIAP</text>
<text x="344.6" y="859.8428571428572" font-size="6.4" text-anchor="end" fill="#1a1a1a" style="stroke-width:0.28px">GADD45B</text>
<text x="344.6" y="865.3047619047619" font-size="6.4" text-anchor="end" fill="#1a1a1a" style="stroke-width:0.28px">IL1RN</text>
<text x="344.6" y="870.7666666666667" font-size="6.4" text-anchor="end" fill="#1a1a1a" style="stroke-width:0.28px">CSF3</text>
<text x="344.6" y="876.2285714285714" font-size="6.4" text-anchor="end" fill="#1a1a1a" style="stroke-width:0.28px">IL12B</text>
<text x="344.6" y="881.6904761904763" font-size="6.4" text-anchor="end" fill="#1a1a1a" style="stroke-width:0.28px">PTGS2</text>
<text x="344.6" y="887.1523809523809" font-size="6.4" text-anchor="end" fill="#1a1a1a" style="stroke-width:0.28px">C3</text>
<text x="344.6" y="892.6142857142858" font-size="6.4" text-anchor="end" fill="#1a1a1a" style="stroke-width:0.28px">NFKB2</text>
<text x="344.6" y="898.0761904761904" font-size="6.4" text-anchor="end" fill="#1a1a1a" style="stroke-width:0.28px">STAT3</text>
<text x="344.6" y="903.5380952380953" font-size="6.4" text-anchor="end" fill="#1a1a1a" style="stroke-width:0.28px">BIRC3</text>
<text x="344.6" y="909.0" font-size="6.4" text-anchor="end" fill="#1a1a1a" style="stroke-width:0.28px">RELB</text>
<text x="414.3" y="496.8" font-size="12" text-anchor="start" textLength="53" lengthAdjust="spacingAndGlyphs" fill="#111">1: Control</text>
<text x="414.3" y="513.5" font-size="12" text-anchor="start" textLength="48" lengthAdjust="spacingAndGlyphs" fill="#111">2: Wnt5a</text>
<text x="428.2" y="528.6" font-size="12" text-anchor="start" textLength="70" lengthAdjust="spacingAndGlyphs" fill="#111">+ control IgG</text>
<text x="414.3" y="548.1" font-size="12" text-anchor="start" textLength="48" lengthAdjust="spacingAndGlyphs" fill="#111">3: Wnt5a</text>
<text x="428.2" y="562.0" font-size="12" text-anchor="start" textLength="81.4" lengthAdjust="spacingAndGlyphs" fill="#111">+ Cirmtuzumab</text>
<linearGradient id="cb" x1="0" y1="0" x2="0" y2="1"><stop offset="0" stop-color="#e00000"/><stop offset="0.5" stop-color="#000"/><stop offset="1" stop-color="#8cf03e"/></linearGradient>
<rect x="414" y="660.5" width="5" height="118.8" fill="url(#cb)" stroke="#000" stroke-width="1.2"/>
<line x1="414" y1="660.5" x2="423" y2="660.5" stroke="#000" stroke-width="1.3"/>
<line x1="414" y1="779.3" x2="423" y2="779.3" stroke="#000" stroke-width="1.3"/>
<text x="428.4" y="664.3" font-size="12" text-anchor="start" textLength="22.5" lengthAdjust="spacingAndGlyphs" fill="#111">max</text>
<text x="428.4" y="723.1" font-size="12" text-anchor="start" textLength="19.5" lengthAdjust="spacingAndGlyphs" fill="#111">avg</text>
<text x="428.4" y="782.4" font-size="12" text-anchor="start" textLength="18.5" lengthAdjust="spacingAndGlyphs" fill="#111">min</text>
<rect x="0.8" y="0.8" width="518.4" height="919.4" fill="none" stroke="#000" stroke-width="1.6"/>
</svg>
</body></html>
